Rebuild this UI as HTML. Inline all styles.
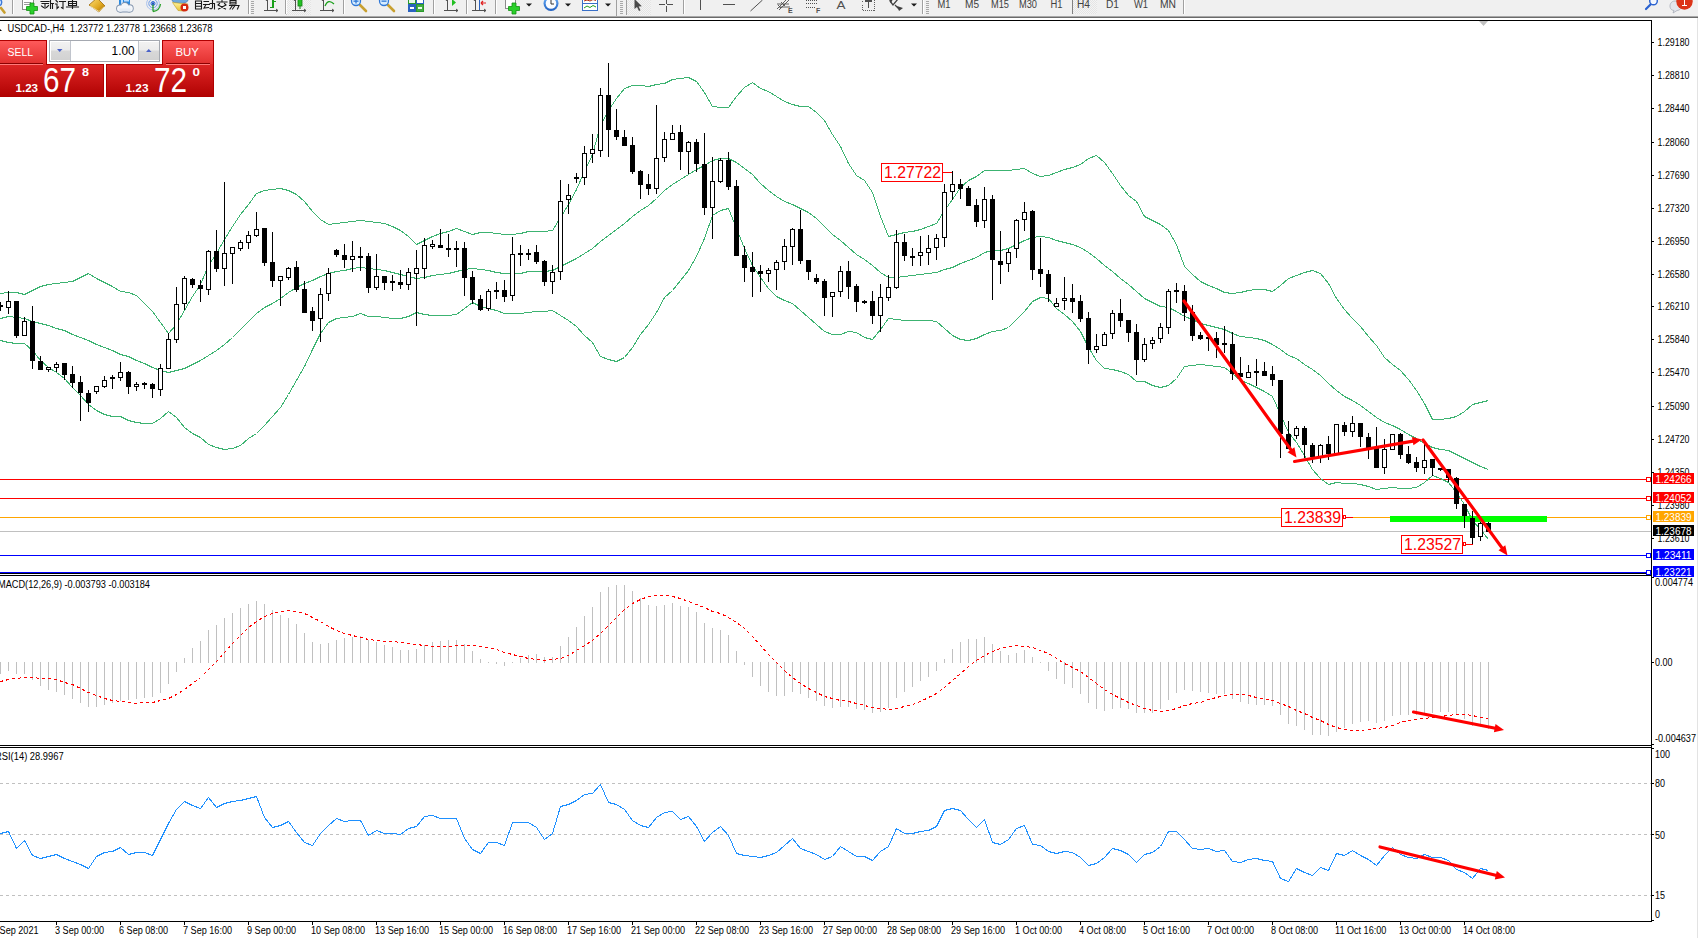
<!DOCTYPE html><html><head><meta charset="utf-8"><style>
html,body{margin:0;padding:0;}
body{width:1698px;height:938px;overflow:hidden;background:#fff;position:relative;font-family:"Liberation Sans", sans-serif;}
.abs{position:absolute;}
svg text{font-family:"Liberation Sans", sans-serif;}
</style></head><body>
<div class="abs" style="left:0;top:0;width:1698px;height:16px;background:#f0f0f0"></div>
<div class="abs" style="left:0;top:16px;width:1698px;height:1px;background:#a8a8a8"></div>
<div class="abs" style="left:0;top:17px;width:1698px;height:1px;background:#6a6a6a"></div>
<svg class="abs" style="left:0;top:0" width="1698" height="938" viewBox="0 0 1698 938">
<g shape-rendering="crispEdges">
<defs><clipPath id="cm"><rect x="0" y="21" width="1651" height="552"/></clipPath><clipPath id="cmacd"><rect x="0" y="576" width="1651" height="169"/></clipPath><clipPath id="crsi"><rect x="0" y="748" width="1651" height="173"/></clipPath></defs>
</g>
<g clip-path="url(#cm)">
<g shape-rendering="crispEdges">
<rect x="0" y="531" width="1651" height="1" fill="#c0c0c0"/>
<rect x="0" y="479" width="1651" height="1" fill="#ff0000"/>
<rect x="0" y="498" width="1651" height="1" fill="#ff0000"/>
<rect x="0" y="517" width="1651" height="1" fill="#ffa500"/>
<rect x="0" y="555" width="1651" height="1" fill="#0000ff"/>
<rect x="0" y="572" width="1651" height="1" fill="#0000ff"/>
</g>
<polyline points="0.5,293.5 8.5,292.5 16.5,292.5 24.5,294.5 32.5,290.5 40.5,286.5 48.5,284.5 56.5,283.5 64.5,282.5 72.5,281.5 80.5,277.5 88.5,273.5 96.5,278.5 104.5,282.5 112.5,286.5 120.5,291.5 128.5,292.5 136.5,295.5 144.5,303.5 152.5,311.5 160.5,322.5 168.5,333.5 176.5,324.5 184.5,310.5 192.5,296.5 200.5,284.5 208.5,265.5 216.5,253.5 224.5,239.5 232.5,226.5 240.5,214.5 248.5,204.5 256.5,193.5 264.5,190.5 272.5,189.5 280.5,188.5 288.5,190.5 296.5,194.5 304.5,201.5 312.5,211.5 320.5,219.5 328.5,224.5 336.5,223.5 344.5,222.5 352.5,221.5 360.5,220.5 368.5,221.5 376.5,222.5 384.5,223.5 392.5,226.5 400.5,230.5 408.5,236.5 416.5,244.5 424.5,240.5 432.5,236.5 440.5,233.5 448.5,231.5 456.5,228.5 464.5,231.5 472.5,234.5 480.5,232.5 488.5,232.5 496.5,233.5 504.5,234.5 512.5,234.5 520.5,233.5 528.5,231.5 536.5,231.5 544.5,231.5 552.5,230.5 560.5,217.5 568.5,204.5 576.5,189.5 584.5,171.5 592.5,154.5 600.5,125.5 608.5,110.5 616.5,98.5 624.5,88.5 632.5,85.5 640.5,85.5 648.5,86.5 656.5,84.5 664.5,83.5 672.5,79.5 680.5,78.5 688.5,77.5 696.5,81.5 704.5,92.5 712.5,106.5 720.5,107.5 728.5,107.5 736.5,96.5 744.5,87.5 752.5,82.5 760.5,88.5 768.5,91.5 776.5,96.5 784.5,101.5 792.5,104.5 800.5,106.5 808.5,106.5 816.5,112.5 824.5,120.5 832.5,134.5 840.5,146.5 848.5,163.5 856.5,175.5 864.5,180.5 872.5,192.5 880.5,216.5 888.5,236.5 896.5,234.5 904.5,232.5 912.5,231.5 920.5,229.5 928.5,226.5 936.5,223.5 944.5,210.5 952.5,199.5 960.5,187.5 968.5,180.5 976.5,176.5 984.5,170.5 992.5,170.5 1000.5,170.5 1008.5,170.5 1016.5,169.5 1024.5,168.5 1032.5,173.5 1040.5,176.5 1048.5,175.5 1056.5,172.5 1064.5,169.5 1072.5,167.5 1080.5,164.5 1088.5,158.5 1096.5,155.5 1104.5,162.5 1112.5,173.5 1120.5,185.5 1128.5,195.5 1136.5,201.5 1144.5,216.5 1152.5,220.5 1160.5,224.5 1168.5,230.5 1176.5,244.5 1184.5,266.5 1192.5,274.5 1200.5,281.5 1208.5,285.5 1216.5,288.5 1224.5,292.5 1232.5,293.5 1240.5,292.5 1248.5,290.5 1256.5,289.5 1264.5,289.5 1272.5,291.5 1280.5,285.5 1288.5,278.5 1296.5,275.5 1304.5,272.5 1312.5,270.5 1320.5,273.5 1328.5,283.5 1336.5,298.5 1344.5,309.5 1352.5,318.5 1360.5,326.5 1368.5,336.5 1376.5,345.5 1384.5,357.5 1392.5,364.5 1400.5,370.5 1408.5,379.5 1416.5,390.5 1424.5,403.5 1432.5,419.5 1440.5,419.5 1448.5,418.5 1456.5,416.5 1464.5,411.5 1472.5,404.5 1480.5,402.5 1488.5,400.5" fill="none" stroke="#3cb371" stroke-width="1" shape-rendering="crispEdges"/>
<polyline points="0.5,318.5 8.5,316.5 16.5,317.5 24.5,318.5 32.5,321.5 40.5,323.5 48.5,325.5 56.5,328.5 64.5,330.5 72.5,334.5 80.5,337.5 88.5,340.5 96.5,344.5 104.5,347.5 112.5,350.5 120.5,354.5 128.5,356.5 136.5,360.5 144.5,363.5 152.5,367.5 160.5,370.5 168.5,372.5 176.5,370.5 184.5,368.5 192.5,364.5 200.5,360.5 208.5,355.5 216.5,350.5 224.5,344.5 232.5,337.5 240.5,329.5 248.5,321.5 256.5,313.5 264.5,307.5 272.5,303.5 280.5,298.5 288.5,292.5 296.5,287.5 304.5,283.5 312.5,280.5 320.5,276.5 328.5,273.5 336.5,271.5 344.5,270.5 352.5,268.5 360.5,267.5 368.5,268.5 376.5,269.5 384.5,270.5 392.5,272.5 400.5,274.5 408.5,276.5 416.5,278.5 424.5,277.5 432.5,275.5 440.5,274.5 448.5,273.5 456.5,271.5 464.5,269.5 472.5,268.5 480.5,269.5 488.5,270.5 496.5,272.5 504.5,273.5 512.5,273.5 520.5,273.5 528.5,271.5 536.5,271.5 544.5,271.5 552.5,270.5 560.5,266.5 568.5,262.5 576.5,258.5 584.5,253.5 592.5,248.5 600.5,241.5 608.5,235.5 616.5,229.5 624.5,223.5 632.5,216.5 640.5,210.5 648.5,205.5 656.5,198.5 664.5,190.5 672.5,184.5 680.5,179.5 688.5,174.5 696.5,169.5 704.5,165.5 712.5,160.5 720.5,158.5 728.5,158.5 736.5,162.5 744.5,168.5 752.5,174.5 760.5,183.5 768.5,190.5 776.5,196.5 784.5,201.5 792.5,204.5 800.5,208.5 808.5,212.5 816.5,218.5 824.5,226.5 832.5,234.5 840.5,240.5 848.5,247.5 856.5,254.5 864.5,259.5 872.5,265.5 880.5,272.5 888.5,277.5 896.5,277.5 904.5,276.5 912.5,275.5 920.5,274.5 928.5,273.5 936.5,272.5 944.5,269.5 952.5,267.5 960.5,263.5 968.5,260.5 976.5,257.5 984.5,252.5 992.5,250.5 1000.5,250.5 1008.5,248.5 1016.5,244.5 1024.5,240.5 1032.5,237.5 1040.5,236.5 1048.5,237.5 1056.5,240.5 1064.5,242.5 1072.5,244.5 1080.5,247.5 1088.5,252.5 1096.5,258.5 1104.5,265.5 1112.5,271.5 1120.5,278.5 1128.5,284.5 1136.5,291.5 1144.5,298.5 1152.5,302.5 1160.5,306.5 1168.5,307.5 1176.5,311.5 1184.5,316.5 1192.5,319.5 1200.5,323.5 1208.5,325.5 1216.5,327.5 1224.5,329.5 1232.5,333.5 1240.5,336.5 1248.5,337.5 1256.5,338.5 1264.5,340.5 1272.5,344.5 1280.5,349.5 1288.5,355.5 1296.5,358.5 1304.5,364.5 1312.5,369.5 1320.5,375.5 1328.5,383.5 1336.5,390.5 1344.5,396.5 1352.5,400.5 1360.5,405.5 1368.5,411.5 1376.5,417.5 1384.5,422.5 1392.5,425.5 1400.5,429.5 1408.5,434.5 1416.5,438.5 1424.5,443.5 1432.5,447.5 1440.5,449.5 1448.5,450.5 1456.5,454.5 1464.5,458.5 1472.5,462.5 1480.5,466.5 1488.5,469.5" fill="none" stroke="#3cb371" stroke-width="1" shape-rendering="crispEdges"/>
<polyline points="0.5,340.5 8.5,342.5 16.5,343.5 24.5,343.5 32.5,350.5 40.5,360.5 48.5,367.5 56.5,372.5 64.5,378.5 72.5,387.5 80.5,395.5 88.5,404.5 96.5,410.5 104.5,414.5 112.5,416.5 120.5,416.5 128.5,420.5 136.5,422.5 144.5,423.5 152.5,423.5 160.5,418.5 168.5,411.5 176.5,417.5 184.5,427.5 192.5,433.5 200.5,437.5 208.5,444.5 216.5,447.5 224.5,449.5 232.5,448.5 240.5,445.5 248.5,438.5 256.5,433.5 264.5,425.5 272.5,416.5 280.5,407.5 288.5,394.5 296.5,380.5 304.5,366.5 312.5,349.5 320.5,333.5 328.5,322.5 336.5,318.5 344.5,317.5 352.5,316.5 360.5,313.5 368.5,316.5 376.5,316.5 384.5,317.5 392.5,318.5 400.5,318.5 408.5,316.5 416.5,312.5 424.5,314.5 432.5,315.5 440.5,315.5 448.5,315.5 456.5,314.5 464.5,308.5 472.5,302.5 480.5,306.5 488.5,308.5 496.5,310.5 504.5,313.5 512.5,313.5 520.5,313.5 528.5,312.5 536.5,311.5 544.5,311.5 552.5,310.5 560.5,315.5 568.5,320.5 576.5,326.5 584.5,335.5 592.5,342.5 600.5,356.5 608.5,359.5 616.5,361.5 624.5,357.5 632.5,347.5 640.5,334.5 648.5,324.5 656.5,312.5 664.5,297.5 672.5,290.5 680.5,280.5 688.5,270.5 696.5,256.5 704.5,238.5 712.5,215.5 720.5,210.5 728.5,208.5 736.5,228.5 744.5,248.5 752.5,265.5 760.5,277.5 768.5,288.5 776.5,296.5 784.5,300.5 792.5,303.5 800.5,310.5 808.5,317.5 816.5,324.5 824.5,331.5 832.5,334.5 840.5,334.5 848.5,331.5 856.5,332.5 864.5,337.5 872.5,339.5 880.5,329.5 888.5,318.5 896.5,319.5 904.5,320.5 912.5,320.5 920.5,320.5 928.5,320.5 936.5,321.5 944.5,328.5 952.5,335.5 960.5,339.5 968.5,340.5 976.5,338.5 984.5,334.5 992.5,331.5 1000.5,330.5 1008.5,327.5 1016.5,319.5 1024.5,311.5 1032.5,301.5 1040.5,297.5 1048.5,298.5 1056.5,308.5 1064.5,314.5 1072.5,321.5 1080.5,331.5 1088.5,347.5 1096.5,360.5 1104.5,368.5 1112.5,369.5 1120.5,371.5 1128.5,374.5 1136.5,381.5 1144.5,381.5 1152.5,385.5 1160.5,387.5 1168.5,385.5 1176.5,378.5 1184.5,366.5 1192.5,365.5 1200.5,364.5 1208.5,365.5 1216.5,366.5 1224.5,367.5 1232.5,373.5 1240.5,380.5 1248.5,383.5 1256.5,387.5 1264.5,391.5 1272.5,396.5 1280.5,414.5 1288.5,432.5 1296.5,442.5 1304.5,455.5 1312.5,469.5 1320.5,478.5 1328.5,484.5 1336.5,482.5 1344.5,483.5 1352.5,483.5 1360.5,484.5 1368.5,486.5 1376.5,489.5 1384.5,488.5 1392.5,487.5 1400.5,488.5 1408.5,488.5 1416.5,487.5 1424.5,482.5 1432.5,475.5 1440.5,478.5 1448.5,482.5 1456.5,492.5 1464.5,504.5 1472.5,520.5 1480.5,529.5 1488.5,539.5" fill="none" stroke="#3cb371" stroke-width="1" shape-rendering="crispEdges"/>
<rect x="1390" y="516" width="157" height="6" fill="#00ff00" shape-rendering="crispEdges"/>
<g shape-rendering="crispEdges">
<rect x="0" y="302" width="1" height="9" fill="#000"/>
<rect x="-2" y="305" width="5" height="2" fill="#000"/>
<rect x="8" y="291" width="1" height="23" fill="#000"/>
<rect x="6" y="301" width="5" height="7" fill="#000"/>
<rect x="7" y="302" width="3" height="5" fill="#fff"/>
<rect x="16" y="301" width="1" height="37" fill="#000"/>
<rect x="14" y="301" width="5" height="35" fill="#000"/>
<rect x="24" y="317" width="1" height="19" fill="#000"/>
<rect x="22" y="321" width="5" height="15" fill="#000"/>
<rect x="23" y="322" width="3" height="13" fill="#fff"/>
<rect x="32" y="306" width="1" height="63" fill="#000"/>
<rect x="30" y="321" width="5" height="40" fill="#000"/>
<rect x="40" y="356" width="1" height="14" fill="#000"/>
<rect x="38" y="361" width="5" height="9" fill="#000"/>
<rect x="48" y="367" width="1" height="5" fill="#000"/>
<rect x="46" y="367" width="5" height="3" fill="#000"/>
<rect x="47" y="368" width="3" height="1" fill="#fff"/>
<rect x="56" y="362" width="1" height="10" fill="#000"/>
<rect x="54" y="364" width="5" height="4" fill="#000"/>
<rect x="55" y="365" width="3" height="2" fill="#fff"/>
<rect x="64" y="363" width="1" height="17" fill="#000"/>
<rect x="62" y="363" width="5" height="12" fill="#000"/>
<rect x="72" y="366" width="1" height="22" fill="#000"/>
<rect x="70" y="374" width="5" height="9" fill="#000"/>
<rect x="80" y="376" width="1" height="45" fill="#000"/>
<rect x="78" y="382" width="5" height="11" fill="#000"/>
<rect x="88" y="390" width="1" height="22" fill="#000"/>
<rect x="86" y="393" width="5" height="10" fill="#000"/>
<rect x="96" y="386" width="1" height="8" fill="#000"/>
<rect x="94" y="386" width="5" height="6" fill="#000"/>
<rect x="95" y="387" width="3" height="4" fill="#fff"/>
<rect x="104" y="376" width="1" height="12" fill="#000"/>
<rect x="102" y="380" width="5" height="7" fill="#000"/>
<rect x="103" y="381" width="3" height="5" fill="#fff"/>
<rect x="112" y="375" width="1" height="14" fill="#000"/>
<rect x="110" y="377" width="5" height="2" fill="#000"/>
<rect x="120" y="362" width="1" height="19" fill="#000"/>
<rect x="118" y="372" width="5" height="6" fill="#000"/>
<rect x="119" y="373" width="3" height="4" fill="#fff"/>
<rect x="128" y="371" width="1" height="23" fill="#000"/>
<rect x="126" y="372" width="5" height="15" fill="#000"/>
<rect x="136" y="382" width="1" height="9" fill="#000"/>
<rect x="134" y="384" width="5" height="3" fill="#000"/>
<rect x="135" y="385" width="3" height="1" fill="#fff"/>
<rect x="144" y="382" width="1" height="7" fill="#000"/>
<rect x="142" y="383" width="5" height="2" fill="#000"/>
<rect x="152" y="383" width="1" height="15" fill="#000"/>
<rect x="150" y="384" width="5" height="5" fill="#000"/>
<rect x="160" y="364" width="1" height="32" fill="#000"/>
<rect x="158" y="368" width="5" height="22" fill="#000"/>
<rect x="159" y="369" width="3" height="20" fill="#fff"/>
<rect x="168" y="333" width="1" height="36" fill="#000"/>
<rect x="166" y="339" width="5" height="30" fill="#000"/>
<rect x="167" y="340" width="3" height="28" fill="#fff"/>
<rect x="176" y="287" width="1" height="56" fill="#000"/>
<rect x="174" y="304" width="5" height="36" fill="#000"/>
<rect x="175" y="305" width="3" height="34" fill="#fff"/>
<rect x="184" y="276" width="1" height="34" fill="#000"/>
<rect x="182" y="278" width="5" height="26" fill="#000"/>
<rect x="183" y="279" width="3" height="24" fill="#fff"/>
<rect x="192" y="278" width="1" height="10" fill="#000"/>
<rect x="190" y="279" width="5" height="6" fill="#000"/>
<rect x="200" y="280" width="1" height="22" fill="#000"/>
<rect x="198" y="285" width="5" height="4" fill="#000"/>
<rect x="208" y="250" width="1" height="45" fill="#000"/>
<rect x="206" y="251" width="5" height="39" fill="#000"/>
<rect x="207" y="252" width="3" height="37" fill="#fff"/>
<rect x="216" y="230" width="1" height="42" fill="#000"/>
<rect x="214" y="251" width="5" height="18" fill="#000"/>
<rect x="224" y="182" width="1" height="104" fill="#000"/>
<rect x="222" y="253" width="5" height="16" fill="#000"/>
<rect x="223" y="254" width="3" height="14" fill="#fff"/>
<rect x="232" y="247" width="1" height="37" fill="#000"/>
<rect x="230" y="247" width="5" height="7" fill="#000"/>
<rect x="231" y="248" width="3" height="5" fill="#fff"/>
<rect x="240" y="240" width="1" height="11" fill="#000"/>
<rect x="238" y="242" width="5" height="7" fill="#000"/>
<rect x="239" y="243" width="3" height="5" fill="#fff"/>
<rect x="248" y="231" width="1" height="18" fill="#000"/>
<rect x="246" y="235" width="5" height="8" fill="#000"/>
<rect x="247" y="236" width="3" height="6" fill="#fff"/>
<rect x="256" y="212" width="1" height="25" fill="#000"/>
<rect x="254" y="229" width="5" height="7" fill="#000"/>
<rect x="255" y="230" width="3" height="5" fill="#fff"/>
<rect x="264" y="228" width="1" height="38" fill="#000"/>
<rect x="262" y="228" width="5" height="35" fill="#000"/>
<rect x="272" y="232" width="1" height="55" fill="#000"/>
<rect x="270" y="262" width="5" height="19" fill="#000"/>
<rect x="280" y="276" width="1" height="30" fill="#000"/>
<rect x="278" y="276" width="5" height="5" fill="#000"/>
<rect x="279" y="277" width="3" height="3" fill="#fff"/>
<rect x="288" y="267" width="1" height="13" fill="#000"/>
<rect x="286" y="268" width="5" height="10" fill="#000"/>
<rect x="287" y="269" width="3" height="8" fill="#fff"/>
<rect x="296" y="261" width="1" height="31" fill="#000"/>
<rect x="294" y="267" width="5" height="23" fill="#000"/>
<rect x="304" y="281" width="1" height="32" fill="#000"/>
<rect x="302" y="289" width="5" height="24" fill="#000"/>
<rect x="312" y="307" width="1" height="24" fill="#000"/>
<rect x="310" y="311" width="5" height="10" fill="#000"/>
<rect x="320" y="288" width="1" height="54" fill="#000"/>
<rect x="318" y="294" width="5" height="25" fill="#000"/>
<rect x="319" y="295" width="3" height="23" fill="#fff"/>
<rect x="328" y="268" width="1" height="33" fill="#000"/>
<rect x="326" y="273" width="5" height="21" fill="#000"/>
<rect x="327" y="274" width="3" height="19" fill="#fff"/>
<rect x="336" y="249" width="1" height="8" fill="#000"/>
<rect x="334" y="250" width="5" height="5" fill="#000"/>
<rect x="344" y="244" width="1" height="24" fill="#000"/>
<rect x="342" y="255" width="5" height="5" fill="#000"/>
<rect x="352" y="241" width="1" height="31" fill="#000"/>
<rect x="350" y="256" width="5" height="4" fill="#000"/>
<rect x="351" y="257" width="3" height="2" fill="#fff"/>
<rect x="360" y="247" width="1" height="24" fill="#000"/>
<rect x="358" y="256" width="5" height="2" fill="#000"/>
<rect x="368" y="253" width="1" height="40" fill="#000"/>
<rect x="366" y="256" width="5" height="32" fill="#000"/>
<rect x="376" y="254" width="1" height="36" fill="#000"/>
<rect x="374" y="276" width="5" height="12" fill="#000"/>
<rect x="375" y="277" width="3" height="10" fill="#fff"/>
<rect x="384" y="276" width="1" height="14" fill="#000"/>
<rect x="382" y="276" width="5" height="7" fill="#000"/>
<rect x="392" y="275" width="1" height="16" fill="#000"/>
<rect x="390" y="281" width="5" height="2" fill="#000"/>
<rect x="400" y="270" width="1" height="19" fill="#000"/>
<rect x="398" y="282" width="5" height="3" fill="#000"/>
<rect x="408" y="268" width="1" height="22" fill="#000"/>
<rect x="406" y="272" width="5" height="13" fill="#000"/>
<rect x="407" y="273" width="3" height="11" fill="#fff"/>
<rect x="416" y="250" width="1" height="76" fill="#000"/>
<rect x="414" y="268" width="5" height="6" fill="#000"/>
<rect x="415" y="269" width="3" height="4" fill="#fff"/>
<rect x="424" y="238" width="1" height="41" fill="#000"/>
<rect x="422" y="245" width="5" height="24" fill="#000"/>
<rect x="423" y="246" width="3" height="22" fill="#fff"/>
<rect x="432" y="240" width="1" height="9" fill="#000"/>
<rect x="430" y="244" width="5" height="3" fill="#000"/>
<rect x="431" y="245" width="3" height="1" fill="#fff"/>
<rect x="440" y="229" width="1" height="19" fill="#000"/>
<rect x="438" y="245" width="5" height="3" fill="#000"/>
<rect x="448" y="234" width="1" height="23" fill="#000"/>
<rect x="446" y="248" width="5" height="2" fill="#000"/>
<rect x="456" y="241" width="1" height="26" fill="#000"/>
<rect x="454" y="248" width="5" height="2" fill="#000"/>
<rect x="464" y="242" width="1" height="54" fill="#000"/>
<rect x="462" y="248" width="5" height="30" fill="#000"/>
<rect x="472" y="271" width="1" height="33" fill="#000"/>
<rect x="470" y="277" width="5" height="23" fill="#000"/>
<rect x="480" y="295" width="1" height="16" fill="#000"/>
<rect x="478" y="299" width="5" height="11" fill="#000"/>
<rect x="488" y="289" width="1" height="22" fill="#000"/>
<rect x="486" y="291" width="5" height="18" fill="#000"/>
<rect x="487" y="292" width="3" height="16" fill="#fff"/>
<rect x="496" y="282" width="1" height="17" fill="#000"/>
<rect x="494" y="290" width="5" height="2" fill="#000"/>
<rect x="504" y="280" width="1" height="22" fill="#000"/>
<rect x="502" y="290" width="5" height="7" fill="#000"/>
<rect x="512" y="237" width="1" height="64" fill="#000"/>
<rect x="510" y="254" width="5" height="42" fill="#000"/>
<rect x="511" y="255" width="3" height="40" fill="#fff"/>
<rect x="520" y="245" width="1" height="21" fill="#000"/>
<rect x="518" y="253" width="5" height="2" fill="#000"/>
<rect x="528" y="249" width="1" height="11" fill="#000"/>
<rect x="526" y="253" width="5" height="2" fill="#000"/>
<rect x="536" y="245" width="1" height="19" fill="#000"/>
<rect x="534" y="252" width="5" height="10" fill="#000"/>
<rect x="544" y="260" width="1" height="26" fill="#000"/>
<rect x="542" y="261" width="5" height="21" fill="#000"/>
<rect x="552" y="265" width="1" height="29" fill="#000"/>
<rect x="550" y="272" width="5" height="10" fill="#000"/>
<rect x="551" y="273" width="3" height="8" fill="#fff"/>
<rect x="560" y="180" width="1" height="100" fill="#000"/>
<rect x="558" y="201" width="5" height="71" fill="#000"/>
<rect x="559" y="202" width="3" height="69" fill="#fff"/>
<rect x="568" y="184" width="1" height="30" fill="#000"/>
<rect x="566" y="195" width="5" height="5" fill="#000"/>
<rect x="567" y="196" width="3" height="3" fill="#fff"/>
<rect x="576" y="173" width="1" height="10" fill="#000"/>
<rect x="574" y="177" width="5" height="2" fill="#000"/>
<rect x="584" y="146" width="1" height="39" fill="#000"/>
<rect x="582" y="153" width="5" height="25" fill="#000"/>
<rect x="583" y="154" width="3" height="23" fill="#fff"/>
<rect x="592" y="134" width="1" height="29" fill="#000"/>
<rect x="590" y="149" width="5" height="5" fill="#000"/>
<rect x="591" y="150" width="3" height="3" fill="#fff"/>
<rect x="600" y="88" width="1" height="69" fill="#000"/>
<rect x="598" y="95" width="5" height="56" fill="#000"/>
<rect x="599" y="96" width="3" height="54" fill="#fff"/>
<rect x="608" y="63" width="1" height="94" fill="#000"/>
<rect x="606" y="95" width="5" height="35" fill="#000"/>
<rect x="616" y="109" width="1" height="31" fill="#000"/>
<rect x="614" y="130" width="5" height="7" fill="#000"/>
<rect x="624" y="130" width="1" height="16" fill="#000"/>
<rect x="622" y="137" width="5" height="9" fill="#000"/>
<rect x="632" y="137" width="1" height="37" fill="#000"/>
<rect x="630" y="145" width="5" height="27" fill="#000"/>
<rect x="640" y="170" width="1" height="29" fill="#000"/>
<rect x="638" y="171" width="5" height="14" fill="#000"/>
<rect x="648" y="174" width="1" height="21" fill="#000"/>
<rect x="646" y="184" width="5" height="5" fill="#000"/>
<rect x="656" y="105" width="1" height="89" fill="#000"/>
<rect x="654" y="158" width="5" height="31" fill="#000"/>
<rect x="655" y="159" width="3" height="29" fill="#fff"/>
<rect x="664" y="132" width="1" height="30" fill="#000"/>
<rect x="662" y="139" width="5" height="19" fill="#000"/>
<rect x="663" y="140" width="3" height="17" fill="#fff"/>
<rect x="672" y="125" width="1" height="15" fill="#000"/>
<rect x="670" y="133" width="5" height="7" fill="#000"/>
<rect x="671" y="134" width="3" height="5" fill="#fff"/>
<rect x="680" y="125" width="1" height="45" fill="#000"/>
<rect x="678" y="132" width="5" height="20" fill="#000"/>
<rect x="688" y="141" width="1" height="33" fill="#000"/>
<rect x="686" y="142" width="5" height="10" fill="#000"/>
<rect x="687" y="143" width="3" height="8" fill="#fff"/>
<rect x="696" y="139" width="1" height="33" fill="#000"/>
<rect x="694" y="142" width="5" height="22" fill="#000"/>
<rect x="704" y="133" width="1" height="82" fill="#000"/>
<rect x="702" y="164" width="5" height="44" fill="#000"/>
<rect x="712" y="157" width="1" height="82" fill="#000"/>
<rect x="710" y="181" width="5" height="27" fill="#000"/>
<rect x="711" y="182" width="3" height="25" fill="#fff"/>
<rect x="720" y="158" width="1" height="25" fill="#000"/>
<rect x="718" y="160" width="5" height="22" fill="#000"/>
<rect x="719" y="161" width="3" height="20" fill="#fff"/>
<rect x="728" y="152" width="1" height="38" fill="#000"/>
<rect x="726" y="160" width="5" height="27" fill="#000"/>
<rect x="736" y="180" width="1" height="76" fill="#000"/>
<rect x="734" y="186" width="5" height="70" fill="#000"/>
<rect x="744" y="246" width="1" height="36" fill="#000"/>
<rect x="742" y="255" width="5" height="13" fill="#000"/>
<rect x="752" y="252" width="1" height="45" fill="#000"/>
<rect x="750" y="267" width="5" height="5" fill="#000"/>
<rect x="760" y="265" width="1" height="27" fill="#000"/>
<rect x="758" y="271" width="5" height="3" fill="#000"/>
<rect x="768" y="268" width="1" height="14" fill="#000"/>
<rect x="766" y="270" width="5" height="4" fill="#000"/>
<rect x="767" y="271" width="3" height="2" fill="#fff"/>
<rect x="776" y="260" width="1" height="30" fill="#000"/>
<rect x="774" y="262" width="5" height="8" fill="#000"/>
<rect x="775" y="263" width="3" height="6" fill="#fff"/>
<rect x="784" y="239" width="1" height="31" fill="#000"/>
<rect x="782" y="246" width="5" height="16" fill="#000"/>
<rect x="783" y="247" width="3" height="14" fill="#fff"/>
<rect x="792" y="228" width="1" height="37" fill="#000"/>
<rect x="790" y="229" width="5" height="18" fill="#000"/>
<rect x="791" y="230" width="3" height="16" fill="#fff"/>
<rect x="800" y="210" width="1" height="54" fill="#000"/>
<rect x="798" y="229" width="5" height="32" fill="#000"/>
<rect x="808" y="260" width="1" height="20" fill="#000"/>
<rect x="806" y="260" width="5" height="12" fill="#000"/>
<rect x="816" y="274" width="1" height="10" fill="#000"/>
<rect x="814" y="278" width="5" height="4" fill="#000"/>
<rect x="824" y="279" width="1" height="37" fill="#000"/>
<rect x="822" y="281" width="5" height="17" fill="#000"/>
<rect x="832" y="292" width="1" height="25" fill="#000"/>
<rect x="830" y="292" width="5" height="5" fill="#000"/>
<rect x="831" y="293" width="3" height="3" fill="#fff"/>
<rect x="840" y="266" width="1" height="31" fill="#000"/>
<rect x="838" y="271" width="5" height="21" fill="#000"/>
<rect x="839" y="272" width="3" height="19" fill="#fff"/>
<rect x="848" y="261" width="1" height="38" fill="#000"/>
<rect x="846" y="271" width="5" height="16" fill="#000"/>
<rect x="856" y="284" width="1" height="28" fill="#000"/>
<rect x="854" y="286" width="5" height="16" fill="#000"/>
<rect x="864" y="300" width="1" height="4" fill="#000"/>
<rect x="862" y="301" width="5" height="2" fill="#000"/>
<rect x="872" y="291" width="1" height="33" fill="#000"/>
<rect x="870" y="301" width="5" height="15" fill="#000"/>
<rect x="880" y="284" width="1" height="48" fill="#000"/>
<rect x="878" y="297" width="5" height="19" fill="#000"/>
<rect x="879" y="298" width="3" height="17" fill="#fff"/>
<rect x="888" y="275" width="1" height="26" fill="#000"/>
<rect x="886" y="287" width="5" height="11" fill="#000"/>
<rect x="887" y="288" width="3" height="9" fill="#fff"/>
<rect x="896" y="230" width="1" height="59" fill="#000"/>
<rect x="894" y="242" width="5" height="46" fill="#000"/>
<rect x="895" y="243" width="3" height="44" fill="#fff"/>
<rect x="904" y="234" width="1" height="27" fill="#000"/>
<rect x="902" y="242" width="5" height="14" fill="#000"/>
<rect x="912" y="248" width="1" height="18" fill="#000"/>
<rect x="910" y="256" width="5" height="2" fill="#000"/>
<rect x="920" y="236" width="1" height="30" fill="#000"/>
<rect x="918" y="252" width="5" height="4" fill="#000"/>
<rect x="919" y="253" width="3" height="2" fill="#fff"/>
<rect x="928" y="235" width="1" height="30" fill="#000"/>
<rect x="926" y="248" width="5" height="5" fill="#000"/>
<rect x="927" y="249" width="3" height="3" fill="#fff"/>
<rect x="936" y="234" width="1" height="26" fill="#000"/>
<rect x="934" y="238" width="5" height="10" fill="#000"/>
<rect x="935" y="239" width="3" height="8" fill="#fff"/>
<rect x="944" y="184" width="1" height="63" fill="#000"/>
<rect x="942" y="192" width="5" height="46" fill="#000"/>
<rect x="943" y="193" width="3" height="44" fill="#fff"/>
<rect x="952" y="171" width="1" height="29" fill="#000"/>
<rect x="950" y="184" width="5" height="8" fill="#000"/>
<rect x="951" y="185" width="3" height="6" fill="#fff"/>
<rect x="960" y="179" width="1" height="20" fill="#000"/>
<rect x="958" y="184" width="5" height="5" fill="#000"/>
<rect x="968" y="186" width="1" height="20" fill="#000"/>
<rect x="966" y="188" width="5" height="18" fill="#000"/>
<rect x="976" y="199" width="1" height="28" fill="#000"/>
<rect x="974" y="205" width="5" height="17" fill="#000"/>
<rect x="984" y="187" width="1" height="41" fill="#000"/>
<rect x="982" y="199" width="5" height="22" fill="#000"/>
<rect x="983" y="200" width="3" height="20" fill="#fff"/>
<rect x="992" y="195" width="1" height="105" fill="#000"/>
<rect x="990" y="199" width="5" height="61" fill="#000"/>
<rect x="1000" y="231" width="1" height="53" fill="#000"/>
<rect x="998" y="261" width="5" height="4" fill="#000"/>
<rect x="1008" y="249" width="1" height="23" fill="#000"/>
<rect x="1006" y="252" width="5" height="12" fill="#000"/>
<rect x="1007" y="253" width="3" height="10" fill="#fff"/>
<rect x="1016" y="219" width="1" height="39" fill="#000"/>
<rect x="1014" y="220" width="5" height="29" fill="#000"/>
<rect x="1015" y="221" width="3" height="27" fill="#fff"/>
<rect x="1024" y="202" width="1" height="29" fill="#000"/>
<rect x="1022" y="212" width="5" height="8" fill="#000"/>
<rect x="1023" y="213" width="3" height="6" fill="#fff"/>
<rect x="1032" y="210" width="1" height="70" fill="#000"/>
<rect x="1030" y="211" width="5" height="59" fill="#000"/>
<rect x="1040" y="238" width="1" height="49" fill="#000"/>
<rect x="1038" y="269" width="5" height="5" fill="#000"/>
<rect x="1048" y="270" width="1" height="32" fill="#000"/>
<rect x="1046" y="274" width="5" height="20" fill="#000"/>
<rect x="1056" y="298" width="1" height="9" fill="#000"/>
<rect x="1054" y="303" width="5" height="4" fill="#000"/>
<rect x="1055" y="304" width="3" height="2" fill="#fff"/>
<rect x="1064" y="277" width="1" height="33" fill="#000"/>
<rect x="1062" y="298" width="5" height="3" fill="#000"/>
<rect x="1063" y="299" width="3" height="1" fill="#fff"/>
<rect x="1072" y="284" width="1" height="29" fill="#000"/>
<rect x="1070" y="298" width="5" height="4" fill="#000"/>
<rect x="1080" y="295" width="1" height="27" fill="#000"/>
<rect x="1078" y="301" width="5" height="18" fill="#000"/>
<rect x="1088" y="312" width="1" height="52" fill="#000"/>
<rect x="1086" y="318" width="5" height="32" fill="#000"/>
<rect x="1096" y="334" width="1" height="19" fill="#000"/>
<rect x="1094" y="346" width="5" height="4" fill="#000"/>
<rect x="1095" y="347" width="3" height="2" fill="#fff"/>
<rect x="1104" y="332" width="1" height="14" fill="#000"/>
<rect x="1102" y="334" width="5" height="12" fill="#000"/>
<rect x="1103" y="335" width="3" height="10" fill="#fff"/>
<rect x="1112" y="310" width="1" height="29" fill="#000"/>
<rect x="1110" y="313" width="5" height="21" fill="#000"/>
<rect x="1111" y="314" width="3" height="19" fill="#fff"/>
<rect x="1120" y="299" width="1" height="28" fill="#000"/>
<rect x="1118" y="313" width="5" height="8" fill="#000"/>
<rect x="1128" y="320" width="1" height="22" fill="#000"/>
<rect x="1126" y="320" width="5" height="13" fill="#000"/>
<rect x="1136" y="324" width="1" height="51" fill="#000"/>
<rect x="1134" y="332" width="5" height="28" fill="#000"/>
<rect x="1144" y="338" width="1" height="24" fill="#000"/>
<rect x="1142" y="344" width="5" height="16" fill="#000"/>
<rect x="1143" y="345" width="3" height="14" fill="#fff"/>
<rect x="1152" y="337" width="1" height="12" fill="#000"/>
<rect x="1150" y="340" width="5" height="4" fill="#000"/>
<rect x="1151" y="341" width="3" height="2" fill="#fff"/>
<rect x="1160" y="323" width="1" height="20" fill="#000"/>
<rect x="1158" y="327" width="5" height="12" fill="#000"/>
<rect x="1159" y="328" width="3" height="10" fill="#fff"/>
<rect x="1168" y="289" width="1" height="45" fill="#000"/>
<rect x="1166" y="291" width="5" height="37" fill="#000"/>
<rect x="1167" y="292" width="3" height="35" fill="#fff"/>
<rect x="1176" y="283" width="1" height="20" fill="#000"/>
<rect x="1174" y="290" width="5" height="2" fill="#000"/>
<rect x="1184" y="285" width="1" height="36" fill="#000"/>
<rect x="1182" y="291" width="5" height="22" fill="#000"/>
<rect x="1192" y="305" width="1" height="36" fill="#000"/>
<rect x="1190" y="312" width="5" height="24" fill="#000"/>
<rect x="1200" y="332" width="1" height="8" fill="#000"/>
<rect x="1198" y="335" width="5" height="4" fill="#000"/>
<rect x="1208" y="338" width="1" height="13" fill="#000"/>
<rect x="1206" y="337" width="5" height="2" fill="#000"/>
<rect x="1216" y="332" width="1" height="26" fill="#000"/>
<rect x="1214" y="338" width="5" height="7" fill="#000"/>
<rect x="1224" y="326" width="1" height="27" fill="#000"/>
<rect x="1222" y="343" width="5" height="2" fill="#000"/>
<rect x="1232" y="332" width="1" height="48" fill="#000"/>
<rect x="1230" y="344" width="5" height="30" fill="#000"/>
<rect x="1240" y="357" width="1" height="20" fill="#000"/>
<rect x="1238" y="373" width="5" height="4" fill="#000"/>
<rect x="1248" y="365" width="1" height="13" fill="#000"/>
<rect x="1246" y="372" width="5" height="6" fill="#000"/>
<rect x="1247" y="373" width="3" height="4" fill="#fff"/>
<rect x="1256" y="359" width="1" height="27" fill="#000"/>
<rect x="1254" y="371" width="5" height="2" fill="#000"/>
<rect x="1264" y="362" width="1" height="14" fill="#000"/>
<rect x="1262" y="371" width="5" height="5" fill="#000"/>
<rect x="1272" y="366" width="1" height="20" fill="#000"/>
<rect x="1270" y="374" width="5" height="6" fill="#000"/>
<rect x="1280" y="380" width="1" height="78" fill="#000"/>
<rect x="1278" y="380" width="5" height="54" fill="#000"/>
<rect x="1288" y="421" width="1" height="28" fill="#000"/>
<rect x="1286" y="434" width="5" height="15" fill="#000"/>
<rect x="1296" y="426" width="1" height="13" fill="#000"/>
<rect x="1294" y="428" width="5" height="8" fill="#000"/>
<rect x="1295" y="429" width="3" height="6" fill="#fff"/>
<rect x="1304" y="426" width="1" height="32" fill="#000"/>
<rect x="1302" y="428" width="5" height="17" fill="#000"/>
<rect x="1312" y="443" width="1" height="20" fill="#000"/>
<rect x="1310" y="445" width="5" height="12" fill="#000"/>
<rect x="1320" y="444" width="1" height="19" fill="#000"/>
<rect x="1318" y="445" width="5" height="13" fill="#000"/>
<rect x="1319" y="446" width="3" height="11" fill="#fff"/>
<rect x="1328" y="436" width="1" height="24" fill="#000"/>
<rect x="1326" y="444" width="5" height="10" fill="#000"/>
<rect x="1336" y="424" width="1" height="31" fill="#000"/>
<rect x="1334" y="424" width="5" height="30" fill="#000"/>
<rect x="1335" y="425" width="3" height="28" fill="#fff"/>
<rect x="1344" y="422" width="1" height="14" fill="#000"/>
<rect x="1342" y="425" width="5" height="7" fill="#000"/>
<rect x="1352" y="416" width="1" height="21" fill="#000"/>
<rect x="1350" y="423" width="5" height="9" fill="#000"/>
<rect x="1351" y="424" width="3" height="7" fill="#fff"/>
<rect x="1360" y="423" width="1" height="24" fill="#000"/>
<rect x="1358" y="423" width="5" height="14" fill="#000"/>
<rect x="1368" y="433" width="1" height="26" fill="#000"/>
<rect x="1366" y="437" width="5" height="11" fill="#000"/>
<rect x="1376" y="427" width="1" height="41" fill="#000"/>
<rect x="1374" y="448" width="5" height="20" fill="#000"/>
<rect x="1384" y="439" width="1" height="35" fill="#000"/>
<rect x="1382" y="449" width="5" height="19" fill="#000"/>
<rect x="1383" y="450" width="3" height="17" fill="#fff"/>
<rect x="1392" y="434" width="1" height="16" fill="#000"/>
<rect x="1390" y="434" width="5" height="16" fill="#000"/>
<rect x="1391" y="435" width="3" height="14" fill="#fff"/>
<rect x="1400" y="433" width="1" height="26" fill="#000"/>
<rect x="1398" y="434" width="5" height="21" fill="#000"/>
<rect x="1408" y="446" width="1" height="18" fill="#000"/>
<rect x="1406" y="454" width="5" height="9" fill="#000"/>
<rect x="1416" y="457" width="1" height="15" fill="#000"/>
<rect x="1414" y="462" width="5" height="6" fill="#000"/>
<rect x="1424" y="440" width="1" height="34" fill="#000"/>
<rect x="1422" y="460" width="5" height="8" fill="#000"/>
<rect x="1423" y="461" width="3" height="6" fill="#fff"/>
<rect x="1432" y="459" width="1" height="17" fill="#000"/>
<rect x="1430" y="459" width="5" height="9" fill="#000"/>
<rect x="1440" y="468" width="1" height="3" fill="#000"/>
<rect x="1438" y="468" width="5" height="2" fill="#000"/>
<rect x="1448" y="469" width="1" height="13" fill="#000"/>
<rect x="1446" y="469" width="5" height="9" fill="#000"/>
<rect x="1456" y="477" width="1" height="32" fill="#000"/>
<rect x="1454" y="478" width="5" height="26" fill="#000"/>
<rect x="1464" y="504" width="1" height="24" fill="#000"/>
<rect x="1462" y="504" width="5" height="12" fill="#000"/>
<rect x="1472" y="511" width="1" height="33" fill="#000"/>
<rect x="1470" y="518" width="5" height="20" fill="#000"/>
<rect x="1480" y="522" width="1" height="19" fill="#000"/>
<rect x="1478" y="523" width="5" height="14" fill="#000"/>
<rect x="1479" y="524" width="3" height="12" fill="#fff"/>
<rect x="1488" y="522" width="1" height="10" fill="#000"/>
<rect x="1486" y="523" width="5" height="9" fill="#000"/>
</g>
</g>
<g shape-rendering="crispEdges">
<rect x="0" y="20" width="1652" height="1" fill="#000"/>
<rect x="1651" y="20" width="1" height="902" fill="#000"/>
<rect x="0" y="573" width="1652" height="1" fill="#000"/>
<rect x="0" y="575" width="1652" height="1" fill="#000"/>
<rect x="0" y="745" width="1652" height="1" fill="#000"/>
<rect x="0" y="747" width="1652" height="1" fill="#000"/>
<rect x="0" y="921" width="1652" height="1" fill="#000"/>
<rect x="1697" y="18" width="1" height="920" fill="#e3e3e3"/>
</g>
<g clip-path="url(#cmacd)">
<g shape-rendering="crispEdges">
<rect x="0" y="662" width="1" height="12" fill="#c0c0c0"/>
<rect x="8" y="662" width="1" height="9" fill="#c0c0c0"/>
<rect x="16" y="662" width="1" height="12" fill="#c0c0c0"/>
<rect x="24" y="662" width="1" height="12" fill="#c0c0c0"/>
<rect x="32" y="662" width="1" height="18" fill="#c0c0c0"/>
<rect x="40" y="662" width="1" height="24" fill="#c0c0c0"/>
<rect x="48" y="662" width="1" height="28" fill="#c0c0c0"/>
<rect x="56" y="662" width="1" height="30" fill="#c0c0c0"/>
<rect x="64" y="662" width="1" height="33" fill="#c0c0c0"/>
<rect x="72" y="662" width="1" height="37" fill="#c0c0c0"/>
<rect x="80" y="662" width="1" height="41" fill="#c0c0c0"/>
<rect x="88" y="662" width="1" height="45" fill="#c0c0c0"/>
<rect x="96" y="662" width="1" height="45" fill="#c0c0c0"/>
<rect x="104" y="662" width="1" height="43" fill="#c0c0c0"/>
<rect x="112" y="662" width="1" height="41" fill="#c0c0c0"/>
<rect x="120" y="662" width="1" height="39" fill="#c0c0c0"/>
<rect x="128" y="662" width="1" height="38" fill="#c0c0c0"/>
<rect x="136" y="662" width="1" height="37" fill="#c0c0c0"/>
<rect x="144" y="662" width="1" height="36" fill="#c0c0c0"/>
<rect x="152" y="662" width="1" height="35" fill="#c0c0c0"/>
<rect x="160" y="662" width="1" height="31" fill="#c0c0c0"/>
<rect x="168" y="662" width="1" height="22" fill="#c0c0c0"/>
<rect x="176" y="662" width="1" height="10" fill="#c0c0c0"/>
<rect x="184" y="658" width="1" height="5" fill="#c0c0c0"/>
<rect x="192" y="648" width="1" height="15" fill="#c0c0c0"/>
<rect x="200" y="641" width="1" height="22" fill="#c0c0c0"/>
<rect x="208" y="630" width="1" height="33" fill="#c0c0c0"/>
<rect x="216" y="625" width="1" height="38" fill="#c0c0c0"/>
<rect x="224" y="618" width="1" height="45" fill="#c0c0c0"/>
<rect x="232" y="613" width="1" height="50" fill="#c0c0c0"/>
<rect x="240" y="608" width="1" height="55" fill="#c0c0c0"/>
<rect x="248" y="604" width="1" height="59" fill="#c0c0c0"/>
<rect x="256" y="601" width="1" height="62" fill="#c0c0c0"/>
<rect x="264" y="604" width="1" height="59" fill="#c0c0c0"/>
<rect x="272" y="610" width="1" height="53" fill="#c0c0c0"/>
<rect x="280" y="615" width="1" height="48" fill="#c0c0c0"/>
<rect x="288" y="618" width="1" height="45" fill="#c0c0c0"/>
<rect x="296" y="624" width="1" height="39" fill="#c0c0c0"/>
<rect x="304" y="633" width="1" height="30" fill="#c0c0c0"/>
<rect x="312" y="642" width="1" height="21" fill="#c0c0c0"/>
<rect x="320" y="644" width="1" height="19" fill="#c0c0c0"/>
<rect x="328" y="643" width="1" height="20" fill="#c0c0c0"/>
<rect x="336" y="640" width="1" height="23" fill="#c0c0c0"/>
<rect x="344" y="638" width="1" height="25" fill="#c0c0c0"/>
<rect x="352" y="637" width="1" height="26" fill="#c0c0c0"/>
<rect x="360" y="636" width="1" height="27" fill="#c0c0c0"/>
<rect x="368" y="640" width="1" height="23" fill="#c0c0c0"/>
<rect x="376" y="642" width="1" height="21" fill="#c0c0c0"/>
<rect x="384" y="645" width="1" height="18" fill="#c0c0c0"/>
<rect x="392" y="647" width="1" height="16" fill="#c0c0c0"/>
<rect x="400" y="650" width="1" height="13" fill="#c0c0c0"/>
<rect x="408" y="650" width="1" height="13" fill="#c0c0c0"/>
<rect x="416" y="649" width="1" height="14" fill="#c0c0c0"/>
<rect x="424" y="645" width="1" height="18" fill="#c0c0c0"/>
<rect x="432" y="642" width="1" height="21" fill="#c0c0c0"/>
<rect x="440" y="641" width="1" height="22" fill="#c0c0c0"/>
<rect x="448" y="640" width="1" height="23" fill="#c0c0c0"/>
<rect x="456" y="640" width="1" height="23" fill="#c0c0c0"/>
<rect x="464" y="644" width="1" height="19" fill="#c0c0c0"/>
<rect x="472" y="651" width="1" height="12" fill="#c0c0c0"/>
<rect x="480" y="659" width="1" height="4" fill="#c0c0c0"/>
<rect x="488" y="662" width="1" height="1" fill="#c0c0c0"/>
<rect x="496" y="662" width="1" height="2" fill="#c0c0c0"/>
<rect x="504" y="662" width="1" height="4" fill="#c0c0c0"/>
<rect x="512" y="662" width="1" height="1" fill="#c0c0c0"/>
<rect x="520" y="658" width="1" height="5" fill="#c0c0c0"/>
<rect x="528" y="655" width="1" height="8" fill="#c0c0c0"/>
<rect x="536" y="654" width="1" height="9" fill="#c0c0c0"/>
<rect x="544" y="657" width="1" height="6" fill="#c0c0c0"/>
<rect x="552" y="657" width="1" height="6" fill="#c0c0c0"/>
<rect x="560" y="646" width="1" height="17" fill="#c0c0c0"/>
<rect x="568" y="637" width="1" height="26" fill="#c0c0c0"/>
<rect x="576" y="627" width="1" height="36" fill="#c0c0c0"/>
<rect x="584" y="616" width="1" height="47" fill="#c0c0c0"/>
<rect x="592" y="607" width="1" height="56" fill="#c0c0c0"/>
<rect x="600" y="592" width="1" height="71" fill="#c0c0c0"/>
<rect x="608" y="587" width="1" height="76" fill="#c0c0c0"/>
<rect x="616" y="585" width="1" height="78" fill="#c0c0c0"/>
<rect x="624" y="585" width="1" height="78" fill="#c0c0c0"/>
<rect x="632" y="591" width="1" height="72" fill="#c0c0c0"/>
<rect x="640" y="598" width="1" height="65" fill="#c0c0c0"/>
<rect x="648" y="605" width="1" height="58" fill="#c0c0c0"/>
<rect x="656" y="606" width="1" height="57" fill="#c0c0c0"/>
<rect x="664" y="605" width="1" height="58" fill="#c0c0c0"/>
<rect x="672" y="603" width="1" height="60" fill="#c0c0c0"/>
<rect x="680" y="606" width="1" height="57" fill="#c0c0c0"/>
<rect x="688" y="607" width="1" height="56" fill="#c0c0c0"/>
<rect x="696" y="612" width="1" height="51" fill="#c0c0c0"/>
<rect x="704" y="623" width="1" height="40" fill="#c0c0c0"/>
<rect x="712" y="628" width="1" height="35" fill="#c0c0c0"/>
<rect x="720" y="630" width="1" height="33" fill="#c0c0c0"/>
<rect x="728" y="635" width="1" height="28" fill="#c0c0c0"/>
<rect x="736" y="651" width="1" height="12" fill="#c0c0c0"/>
<rect x="744" y="662" width="1" height="3" fill="#c0c0c0"/>
<rect x="752" y="662" width="1" height="15" fill="#c0c0c0"/>
<rect x="760" y="662" width="1" height="24" fill="#c0c0c0"/>
<rect x="768" y="662" width="1" height="30" fill="#c0c0c0"/>
<rect x="776" y="662" width="1" height="34" fill="#c0c0c0"/>
<rect x="784" y="662" width="1" height="34" fill="#c0c0c0"/>
<rect x="792" y="662" width="1" height="30" fill="#c0c0c0"/>
<rect x="800" y="662" width="1" height="32" fill="#c0c0c0"/>
<rect x="808" y="662" width="1" height="36" fill="#c0c0c0"/>
<rect x="816" y="662" width="1" height="39" fill="#c0c0c0"/>
<rect x="824" y="662" width="1" height="44" fill="#c0c0c0"/>
<rect x="832" y="662" width="1" height="46" fill="#c0c0c0"/>
<rect x="840" y="662" width="1" height="45" fill="#c0c0c0"/>
<rect x="848" y="662" width="1" height="45" fill="#c0c0c0"/>
<rect x="856" y="662" width="1" height="47" fill="#c0c0c0"/>
<rect x="864" y="662" width="1" height="48" fill="#c0c0c0"/>
<rect x="872" y="662" width="1" height="51" fill="#c0c0c0"/>
<rect x="880" y="662" width="1" height="50" fill="#c0c0c0"/>
<rect x="888" y="662" width="1" height="46" fill="#c0c0c0"/>
<rect x="896" y="662" width="1" height="36" fill="#c0c0c0"/>
<rect x="904" y="662" width="1" height="30" fill="#c0c0c0"/>
<rect x="912" y="662" width="1" height="25" fill="#c0c0c0"/>
<rect x="920" y="662" width="1" height="19" fill="#c0c0c0"/>
<rect x="928" y="662" width="1" height="15" fill="#c0c0c0"/>
<rect x="936" y="662" width="1" height="9" fill="#c0c0c0"/>
<rect x="944" y="659" width="1" height="4" fill="#c0c0c0"/>
<rect x="952" y="649" width="1" height="14" fill="#c0c0c0"/>
<rect x="960" y="642" width="1" height="21" fill="#c0c0c0"/>
<rect x="968" y="639" width="1" height="24" fill="#c0c0c0"/>
<rect x="976" y="639" width="1" height="24" fill="#c0c0c0"/>
<rect x="984" y="637" width="1" height="26" fill="#c0c0c0"/>
<rect x="992" y="644" width="1" height="19" fill="#c0c0c0"/>
<rect x="1000" y="651" width="1" height="12" fill="#c0c0c0"/>
<rect x="1008" y="655" width="1" height="8" fill="#c0c0c0"/>
<rect x="1016" y="653" width="1" height="10" fill="#c0c0c0"/>
<rect x="1024" y="650" width="1" height="13" fill="#c0c0c0"/>
<rect x="1032" y="657" width="1" height="6" fill="#c0c0c0"/>
<rect x="1040" y="662" width="1" height="1" fill="#c0c0c0"/>
<rect x="1048" y="662" width="1" height="9" fill="#c0c0c0"/>
<rect x="1056" y="662" width="1" height="17" fill="#c0c0c0"/>
<rect x="1064" y="662" width="1" height="22" fill="#c0c0c0"/>
<rect x="1072" y="662" width="1" height="26" fill="#c0c0c0"/>
<rect x="1080" y="662" width="1" height="32" fill="#c0c0c0"/>
<rect x="1088" y="662" width="1" height="41" fill="#c0c0c0"/>
<rect x="1096" y="662" width="1" height="47" fill="#c0c0c0"/>
<rect x="1104" y="662" width="1" height="49" fill="#c0c0c0"/>
<rect x="1112" y="662" width="1" height="47" fill="#c0c0c0"/>
<rect x="1120" y="662" width="1" height="46" fill="#c0c0c0"/>
<rect x="1128" y="662" width="1" height="47" fill="#c0c0c0"/>
<rect x="1136" y="662" width="1" height="51" fill="#c0c0c0"/>
<rect x="1144" y="662" width="1" height="51" fill="#c0c0c0"/>
<rect x="1152" y="662" width="1" height="51" fill="#c0c0c0"/>
<rect x="1160" y="662" width="1" height="47" fill="#c0c0c0"/>
<rect x="1168" y="662" width="1" height="38" fill="#c0c0c0"/>
<rect x="1176" y="662" width="1" height="31" fill="#c0c0c0"/>
<rect x="1184" y="662" width="1" height="28" fill="#c0c0c0"/>
<rect x="1192" y="662" width="1" height="29" fill="#c0c0c0"/>
<rect x="1200" y="662" width="1" height="30" fill="#c0c0c0"/>
<rect x="1208" y="662" width="1" height="31" fill="#c0c0c0"/>
<rect x="1216" y="662" width="1" height="32" fill="#c0c0c0"/>
<rect x="1224" y="662" width="1" height="32" fill="#c0c0c0"/>
<rect x="1232" y="662" width="1" height="37" fill="#c0c0c0"/>
<rect x="1240" y="662" width="1" height="40" fill="#c0c0c0"/>
<rect x="1248" y="662" width="1" height="42" fill="#c0c0c0"/>
<rect x="1256" y="662" width="1" height="43" fill="#c0c0c0"/>
<rect x="1264" y="662" width="1" height="43" fill="#c0c0c0"/>
<rect x="1272" y="662" width="1" height="44" fill="#c0c0c0"/>
<rect x="1280" y="662" width="1" height="53" fill="#c0c0c0"/>
<rect x="1288" y="662" width="1" height="62" fill="#c0c0c0"/>
<rect x="1296" y="662" width="1" height="64" fill="#c0c0c0"/>
<rect x="1304" y="662" width="1" height="68" fill="#c0c0c0"/>
<rect x="1312" y="662" width="1" height="73" fill="#c0c0c0"/>
<rect x="1320" y="662" width="1" height="73" fill="#c0c0c0"/>
<rect x="1328" y="662" width="1" height="74" fill="#c0c0c0"/>
<rect x="1336" y="662" width="1" height="70" fill="#c0c0c0"/>
<rect x="1344" y="662" width="1" height="66" fill="#c0c0c0"/>
<rect x="1352" y="662" width="1" height="62" fill="#c0c0c0"/>
<rect x="1360" y="662" width="1" height="60" fill="#c0c0c0"/>
<rect x="1368" y="662" width="1" height="59" fill="#c0c0c0"/>
<rect x="1376" y="662" width="1" height="61" fill="#c0c0c0"/>
<rect x="1384" y="662" width="1" height="59" fill="#c0c0c0"/>
<rect x="1392" y="662" width="1" height="54" fill="#c0c0c0"/>
<rect x="1400" y="662" width="1" height="53" fill="#c0c0c0"/>
<rect x="1408" y="662" width="1" height="53" fill="#c0c0c0"/>
<rect x="1416" y="662" width="1" height="53" fill="#c0c0c0"/>
<rect x="1424" y="662" width="1" height="51" fill="#c0c0c0"/>
<rect x="1432" y="662" width="1" height="51" fill="#c0c0c0"/>
<rect x="1440" y="662" width="1" height="50" fill="#c0c0c0"/>
<rect x="1448" y="662" width="1" height="50" fill="#c0c0c0"/>
<rect x="1456" y="662" width="1" height="53" fill="#c0c0c0"/>
<rect x="1464" y="662" width="1" height="57" fill="#c0c0c0"/>
<rect x="1472" y="662" width="1" height="64" fill="#c0c0c0"/>
<rect x="1480" y="662" width="1" height="65" fill="#c0c0c0"/>
<rect x="1488" y="662" width="1" height="67" fill="#c0c0c0"/>
</g>
<polyline points="0.5,681.5 8.5,679.5 16.5,678.5 24.5,677.5 32.5,677.5 40.5,678.5 48.5,678.5 56.5,679.5 64.5,682.5 72.5,684.5 80.5,688.5 88.5,692.5 96.5,695.5 104.5,698.5 112.5,700.5 120.5,701.5 128.5,702.5 136.5,703.5 144.5,702.5 152.5,702.5 160.5,700.5 168.5,698.5 176.5,694.5 184.5,689.5 192.5,683.5 200.5,677.5 208.5,669.5 216.5,661.5 224.5,652.5 232.5,643.5 240.5,635.5 248.5,627.5 256.5,621.5 264.5,616.5 272.5,613.5 280.5,611.5 288.5,610.5 296.5,611.5 304.5,613.5 312.5,617.5 320.5,621.5 328.5,626.5 336.5,630.5 344.5,633.5 352.5,635.5 360.5,637.5 368.5,639.5 376.5,640.5 384.5,641.5 392.5,641.5 400.5,642.5 408.5,643.5 416.5,644.5 424.5,645.5 432.5,646.5 440.5,646.5 448.5,646.5 456.5,645.5 464.5,645.5 472.5,645.5 480.5,646.5 488.5,647.5 496.5,649.5 504.5,652.5 512.5,654.5 520.5,656.5 528.5,658.5 536.5,659.5 544.5,660.5 552.5,659.5 560.5,658.5 568.5,655.5 576.5,650.5 584.5,645.5 592.5,640.5 600.5,633.5 608.5,625.5 616.5,617.5 624.5,609.5 632.5,603.5 640.5,599.5 648.5,596.5 656.5,595.5 664.5,595.5 672.5,596.5 680.5,598.5 688.5,601.5 696.5,604.5 704.5,607.5 712.5,611.5 720.5,613.5 728.5,617.5 736.5,622.5 744.5,628.5 752.5,636.5 760.5,645.5 768.5,654.5 776.5,662.5 784.5,670.5 792.5,677.5 800.5,683.5 808.5,688.5 816.5,692.5 824.5,696.5 832.5,698.5 840.5,700.5 848.5,701.5 856.5,703.5 864.5,705.5 872.5,707.5 880.5,708.5 888.5,709.5 896.5,708.5 904.5,706.5 912.5,704.5 920.5,701.5 928.5,697.5 936.5,693.5 944.5,687.5 952.5,680.5 960.5,673.5 968.5,666.5 976.5,660.5 984.5,655.5 992.5,651.5 1000.5,648.5 1008.5,646.5 1016.5,645.5 1024.5,646.5 1032.5,647.5 1040.5,650.5 1048.5,653.5 1056.5,658.5 1064.5,663.5 1072.5,667.5 1080.5,671.5 1088.5,677.5 1096.5,683.5 1104.5,689.5 1112.5,694.5 1120.5,698.5 1128.5,702.5 1136.5,705.5 1144.5,708.5 1152.5,710.5 1160.5,711.5 1168.5,710.5 1176.5,708.5 1184.5,705.5 1192.5,703.5 1200.5,702.5 1208.5,699.5 1216.5,697.5 1224.5,695.5 1232.5,694.5 1240.5,694.5 1248.5,695.5 1256.5,697.5 1264.5,699.5 1272.5,700.5 1280.5,703.5 1288.5,706.5 1296.5,710.5 1304.5,713.5 1312.5,717.5 1320.5,720.5 1328.5,724.5 1336.5,727.5 1344.5,729.5 1352.5,730.5 1360.5,730.5 1368.5,729.5 1376.5,728.5 1384.5,727.5 1392.5,725.5 1400.5,722.5 1408.5,720.5 1416.5,719.5 1424.5,718.5 1432.5,717.5 1440.5,716.5 1448.5,715.5 1456.5,714.5 1464.5,714.5 1472.5,715.5 1480.5,717.5 1488.5,718.5" fill="none" stroke="#ff0000" stroke-width="1" stroke-dasharray="3 3" shape-rendering="crispEdges"/>
</g>
<g clip-path="url(#crsi)">
<g shape-rendering="crispEdges">
<line x1="0" y1="783.5" x2="1651" y2="783.5" stroke="#c0c0c0" stroke-width="1" stroke-dasharray="3 3"/>
<line x1="0" y1="834.5" x2="1651" y2="834.5" stroke="#c0c0c0" stroke-width="1" stroke-dasharray="3 3"/>
<line x1="0" y1="895.5" x2="1651" y2="895.5" stroke="#c0c0c0" stroke-width="1" stroke-dasharray="3 3"/>
</g>
<polyline points="0.5,833.5 8.5,831.5 16.5,848.5 24.5,840.5 32.5,855.5 40.5,858.5 48.5,856.5 56.5,854.5 64.5,858.5 72.5,861.5 80.5,864.5 88.5,868.5 96.5,856.5 104.5,852.5 112.5,851.5 120.5,847.5 128.5,854.5 136.5,852.5 144.5,852.5 152.5,855.5 160.5,839.5 168.5,823.5 176.5,809.5 184.5,801.5 192.5,805.5 200.5,808.5 208.5,797.5 216.5,807.5 224.5,803.5 232.5,801.5 240.5,800.5 248.5,798.5 256.5,796.5 264.5,817.5 272.5,827.5 280.5,825.5 288.5,821.5 296.5,832.5 304.5,842.5 312.5,845.5 320.5,833.5 328.5,825.5 336.5,818.5 344.5,821.5 352.5,820.5 360.5,820.5 368.5,835.5 376.5,830.5 384.5,833.5 392.5,833.5 400.5,834.5 408.5,828.5 416.5,826.5 424.5,816.5 432.5,815.5 440.5,818.5 448.5,818.5 456.5,818.5 464.5,838.5 472.5,849.5 480.5,853.5 488.5,842.5 496.5,842.5 504.5,845.5 512.5,822.5 520.5,822.5 528.5,822.5 536.5,827.5 544.5,839.5 552.5,833.5 560.5,806.5 568.5,804.5 576.5,800.5 584.5,794.5 592.5,793.5 600.5,784.5 608.5,802.5 616.5,804.5 624.5,809.5 632.5,820.5 640.5,825.5 648.5,827.5 656.5,817.5 664.5,812.5 672.5,811.5 680.5,819.5 688.5,816.5 696.5,826.5 704.5,841.5 712.5,832.5 720.5,826.5 728.5,835.5 736.5,853.5 744.5,855.5 752.5,856.5 760.5,857.5 768.5,855.5 776.5,852.5 784.5,845.5 792.5,838.5 800.5,848.5 808.5,851.5 816.5,854.5 824.5,859.5 832.5,856.5 840.5,846.5 848.5,851.5 856.5,856.5 864.5,856.5 872.5,860.5 880.5,851.5 888.5,846.5 896.5,828.5 904.5,833.5 912.5,833.5 920.5,831.5 928.5,830.5 936.5,826.5 944.5,810.5 952.5,808.5 960.5,810.5 968.5,819.5 976.5,827.5 984.5,819.5 992.5,842.5 1000.5,844.5 1008.5,839.5 1016.5,828.5 1024.5,825.5 1032.5,844.5 1040.5,845.5 1048.5,851.5 1056.5,853.5 1064.5,851.5 1072.5,852.5 1080.5,857.5 1088.5,865.5 1096.5,863.5 1104.5,857.5 1112.5,848.5 1120.5,850.5 1128.5,854.5 1136.5,862.5 1144.5,854.5 1152.5,852.5 1160.5,846.5 1168.5,831.5 1176.5,831.5 1184.5,839.5 1192.5,848.5 1200.5,849.5 1208.5,848.5 1216.5,851.5 1224.5,850.5 1232.5,861.5 1240.5,862.5 1248.5,859.5 1256.5,858.5 1264.5,860.5 1272.5,861.5 1280.5,878.5 1288.5,881.5 1296.5,868.5 1304.5,872.5 1312.5,875.5 1320.5,867.5 1328.5,870.5 1336.5,853.5 1344.5,855.5 1352.5,850.5 1360.5,855.5 1368.5,859.5 1376.5,865.5 1384.5,855.5 1392.5,847.5 1400.5,854.5 1408.5,857.5 1416.5,858.5 1424.5,854.5 1432.5,857.5 1440.5,857.5 1448.5,860.5 1456.5,869.5 1464.5,872.5 1472.5,878.5 1480.5,868.5 1488.5,870.5" fill="none" stroke="#1e90ff" stroke-width="1" shape-rendering="crispEdges"/>
</g>
<g shape-rendering="crispEdges">
<rect x="1652" y="42" width="2" height="1" fill="#000"/>
<rect x="1652" y="75" width="2" height="1" fill="#000"/>
<rect x="1652" y="108" width="2" height="1" fill="#000"/>
<rect x="1652" y="142" width="2" height="1" fill="#000"/>
<rect x="1652" y="175" width="2" height="1" fill="#000"/>
<rect x="1652" y="208" width="2" height="1" fill="#000"/>
<rect x="1652" y="241" width="2" height="1" fill="#000"/>
<rect x="1652" y="274" width="2" height="1" fill="#000"/>
<rect x="1652" y="306" width="2" height="1" fill="#000"/>
<rect x="1652" y="339" width="2" height="1" fill="#000"/>
<rect x="1652" y="372" width="2" height="1" fill="#000"/>
<rect x="1652" y="406" width="2" height="1" fill="#000"/>
<rect x="1652" y="439" width="2" height="1" fill="#000"/>
<rect x="1652" y="472" width="2" height="1" fill="#000"/>
<rect x="1652" y="505" width="2" height="1" fill="#000"/>
<rect x="1652" y="538" width="2" height="1" fill="#000"/>
</g>
<text x="1657.50" y="46.00" font-size="10" fill="#000" textLength="32.00" lengthAdjust="spacingAndGlyphs" text-anchor="start" >1.29180</text>
<text x="1657.50" y="79.00" font-size="10" fill="#000" textLength="32.00" lengthAdjust="spacingAndGlyphs" text-anchor="start" >1.28810</text>
<text x="1657.50" y="112.00" font-size="10" fill="#000" textLength="32.00" lengthAdjust="spacingAndGlyphs" text-anchor="start" >1.28440</text>
<text x="1657.50" y="146.00" font-size="10" fill="#000" textLength="32.00" lengthAdjust="spacingAndGlyphs" text-anchor="start" >1.28060</text>
<text x="1657.50" y="179.00" font-size="10" fill="#000" textLength="32.00" lengthAdjust="spacingAndGlyphs" text-anchor="start" >1.27690</text>
<text x="1657.50" y="212.00" font-size="10" fill="#000" textLength="32.00" lengthAdjust="spacingAndGlyphs" text-anchor="start" >1.27320</text>
<text x="1657.50" y="245.00" font-size="10" fill="#000" textLength="32.00" lengthAdjust="spacingAndGlyphs" text-anchor="start" >1.26950</text>
<text x="1657.50" y="278.00" font-size="10" fill="#000" textLength="32.00" lengthAdjust="spacingAndGlyphs" text-anchor="start" >1.26580</text>
<text x="1657.50" y="310.00" font-size="10" fill="#000" textLength="32.00" lengthAdjust="spacingAndGlyphs" text-anchor="start" >1.26210</text>
<text x="1657.50" y="343.00" font-size="10" fill="#000" textLength="32.00" lengthAdjust="spacingAndGlyphs" text-anchor="start" >1.25840</text>
<text x="1657.50" y="376.00" font-size="10" fill="#000" textLength="32.00" lengthAdjust="spacingAndGlyphs" text-anchor="start" >1.25470</text>
<text x="1657.50" y="410.00" font-size="10" fill="#000" textLength="32.00" lengthAdjust="spacingAndGlyphs" text-anchor="start" >1.25090</text>
<text x="1657.50" y="443.00" font-size="10" fill="#000" textLength="32.00" lengthAdjust="spacingAndGlyphs" text-anchor="start" >1.24720</text>
<text x="1657.50" y="476.00" font-size="10" fill="#000" textLength="32.00" lengthAdjust="spacingAndGlyphs" text-anchor="start" >1.24350</text>
<text x="1657.50" y="509.00" font-size="10" fill="#000" textLength="32.00" lengthAdjust="spacingAndGlyphs" text-anchor="start" >1.23980</text>
<text x="1657.50" y="542.00" font-size="10" fill="#000" textLength="32.00" lengthAdjust="spacingAndGlyphs" text-anchor="start" >1.23610</text>
<g shape-rendering="crispEdges">
<rect x="1653" y="473" width="41" height="11" fill="#ff0000"/>
<rect x="1646.5" y="477.5" width="4" height="4" fill="#fff" stroke="#ff0000" stroke-width="1"/>
<rect x="1653" y="492" width="41" height="11" fill="#ff0000"/>
<rect x="1646.5" y="496.5" width="4" height="4" fill="#fff" stroke="#ff0000" stroke-width="1"/>
<rect x="1653" y="511" width="41" height="11" fill="#ffa500"/>
<rect x="1646.5" y="515.5" width="4" height="4" fill="#fff" stroke="#ffa500" stroke-width="1"/>
<rect x="1653" y="525" width="41" height="11" fill="#000000"/>
<rect x="1653" y="549" width="41" height="11" fill="#0000ff"/>
<rect x="1646.5" y="553.5" width="4" height="4" fill="#fff" stroke="#0000ff" stroke-width="1"/>
<rect x="1653" y="566" width="41" height="11" fill="#0000ff"/>
<rect x="1646.5" y="570.5" width="4" height="4" fill="#fff" stroke="#0000ff" stroke-width="1"/>
</g>
<text x="1655.50" y="483.00" font-size="10" fill="#fff" textLength="36.00" lengthAdjust="spacingAndGlyphs" text-anchor="start" >1.24266</text>
<text x="1655.50" y="502.00" font-size="10" fill="#fff" textLength="36.00" lengthAdjust="spacingAndGlyphs" text-anchor="start" >1.24052</text>
<text x="1655.50" y="521.00" font-size="10" fill="#fff" textLength="36.00" lengthAdjust="spacingAndGlyphs" text-anchor="start" >1.23839</text>
<text x="1655.50" y="535.00" font-size="10" fill="#fff" textLength="36.00" lengthAdjust="spacingAndGlyphs" text-anchor="start" >1.23678</text>
<text x="1655.50" y="559.00" font-size="10" fill="#fff" textLength="36.00" lengthAdjust="spacingAndGlyphs" text-anchor="start" >1.23411</text>
<text x="1655.50" y="576.00" font-size="10" fill="#fff" textLength="36.00" lengthAdjust="spacingAndGlyphs" text-anchor="start" >1.23221</text>
<g shape-rendering="crispEdges">
<rect x="1652" y="577" width="2" height="1" fill="#000"/>
<rect x="1652" y="662" width="2" height="1" fill="#000"/>
<rect x="1652" y="744" width="2" height="1" fill="#000"/>
<rect x="1652" y="748" width="2" height="1" fill="#000"/>
<rect x="1652" y="783" width="2" height="1" fill="#000"/>
<rect x="1652" y="834" width="2" height="1" fill="#000"/>
<rect x="1652" y="895" width="2" height="1" fill="#000"/>
<rect x="1652" y="920" width="2" height="1" fill="#000"/>
<rect x="56" y="922" width="1" height="3" fill="#000"/>
<rect x="120" y="922" width="1" height="3" fill="#000"/>
<rect x="184" y="922" width="1" height="3" fill="#000"/>
<rect x="248" y="922" width="1" height="3" fill="#000"/>
<rect x="312" y="922" width="1" height="3" fill="#000"/>
<rect x="376" y="922" width="1" height="3" fill="#000"/>
<rect x="440" y="922" width="1" height="3" fill="#000"/>
<rect x="504" y="922" width="1" height="3" fill="#000"/>
<rect x="568" y="922" width="1" height="3" fill="#000"/>
<rect x="632" y="922" width="1" height="3" fill="#000"/>
<rect x="696" y="922" width="1" height="3" fill="#000"/>
<rect x="760" y="922" width="1" height="3" fill="#000"/>
<rect x="824" y="922" width="1" height="3" fill="#000"/>
<rect x="888" y="922" width="1" height="3" fill="#000"/>
<rect x="952" y="922" width="1" height="3" fill="#000"/>
<rect x="1016" y="922" width="1" height="3" fill="#000"/>
<rect x="1080" y="922" width="1" height="3" fill="#000"/>
<rect x="1144" y="922" width="1" height="3" fill="#000"/>
<rect x="1208" y="922" width="1" height="3" fill="#000"/>
<rect x="1272" y="922" width="1" height="3" fill="#000"/>
<rect x="1336" y="922" width="1" height="3" fill="#000"/>
<rect x="1400" y="922" width="1" height="3" fill="#000"/>
<rect x="1464" y="922" width="1" height="3" fill="#000"/>
</g>
<text x="1655.00" y="586.00" font-size="10" fill="#000" textLength="38.00" lengthAdjust="spacingAndGlyphs" text-anchor="start" >0.004774</text>
<text x="1655.00" y="666.00" font-size="10" fill="#000" textLength="17.50" lengthAdjust="spacingAndGlyphs" text-anchor="start" >0.00</text>
<text x="1655.00" y="742.00" font-size="10" fill="#000" textLength="41.00" lengthAdjust="spacingAndGlyphs" text-anchor="start" >-0.004637</text>
<text x="1655.00" y="758.00" font-size="10" fill="#000" textLength="15.00" lengthAdjust="spacingAndGlyphs" text-anchor="start" >100</text>
<text x="1655.00" y="787.00" font-size="10" fill="#000" textLength="10.00" lengthAdjust="spacingAndGlyphs" text-anchor="start" >80</text>
<text x="1655.00" y="838.50" font-size="10" fill="#000" textLength="10.00" lengthAdjust="spacingAndGlyphs" text-anchor="start" >50</text>
<text x="1655.00" y="899.00" font-size="10" fill="#000" textLength="10.00" lengthAdjust="spacingAndGlyphs" text-anchor="start" >15</text>
<text x="1655.00" y="918.00" font-size="10" fill="#000" textLength="5.00" lengthAdjust="spacingAndGlyphs" text-anchor="start" >0</text>
<text x="55.00" y="934.00" font-size="10" fill="#000" textLength="49.02" lengthAdjust="spacingAndGlyphs" text-anchor="start" >3&#160;Sep&#160;00:00</text>
<text x="119.00" y="934.00" font-size="10" fill="#000" textLength="49.02" lengthAdjust="spacingAndGlyphs" text-anchor="start" >6&#160;Sep&#160;08:00</text>
<text x="183.00" y="934.00" font-size="10" fill="#000" textLength="49.02" lengthAdjust="spacingAndGlyphs" text-anchor="start" >7&#160;Sep&#160;16:00</text>
<text x="247.00" y="934.00" font-size="10" fill="#000" textLength="49.02" lengthAdjust="spacingAndGlyphs" text-anchor="start" >9&#160;Sep&#160;00:00</text>
<text x="311.00" y="934.00" font-size="10" fill="#000" textLength="54.08" lengthAdjust="spacingAndGlyphs" text-anchor="start" >10&#160;Sep&#160;08:00</text>
<text x="375.00" y="934.00" font-size="10" fill="#000" textLength="54.08" lengthAdjust="spacingAndGlyphs" text-anchor="start" >13&#160;Sep&#160;16:00</text>
<text x="439.00" y="934.00" font-size="10" fill="#000" textLength="54.08" lengthAdjust="spacingAndGlyphs" text-anchor="start" >15&#160;Sep&#160;00:00</text>
<text x="503.00" y="934.00" font-size="10" fill="#000" textLength="54.08" lengthAdjust="spacingAndGlyphs" text-anchor="start" >16&#160;Sep&#160;08:00</text>
<text x="567.00" y="934.00" font-size="10" fill="#000" textLength="54.08" lengthAdjust="spacingAndGlyphs" text-anchor="start" >17&#160;Sep&#160;16:00</text>
<text x="631.00" y="934.00" font-size="10" fill="#000" textLength="54.08" lengthAdjust="spacingAndGlyphs" text-anchor="start" >21&#160;Sep&#160;00:00</text>
<text x="695.00" y="934.00" font-size="10" fill="#000" textLength="54.08" lengthAdjust="spacingAndGlyphs" text-anchor="start" >22&#160;Sep&#160;08:00</text>
<text x="759.00" y="934.00" font-size="10" fill="#000" textLength="54.08" lengthAdjust="spacingAndGlyphs" text-anchor="start" >23&#160;Sep&#160;16:00</text>
<text x="823.00" y="934.00" font-size="10" fill="#000" textLength="54.08" lengthAdjust="spacingAndGlyphs" text-anchor="start" >27&#160;Sep&#160;00:00</text>
<text x="887.00" y="934.00" font-size="10" fill="#000" textLength="54.08" lengthAdjust="spacingAndGlyphs" text-anchor="start" >28&#160;Sep&#160;08:00</text>
<text x="951.00" y="934.00" font-size="10" fill="#000" textLength="54.08" lengthAdjust="spacingAndGlyphs" text-anchor="start" >29&#160;Sep&#160;16:00</text>
<text x="1015.00" y="934.00" font-size="10" fill="#000" textLength="46.99" lengthAdjust="spacingAndGlyphs" text-anchor="start" >1&#160;Oct&#160;00:00</text>
<text x="1079.00" y="934.00" font-size="10" fill="#000" textLength="46.99" lengthAdjust="spacingAndGlyphs" text-anchor="start" >4&#160;Oct&#160;08:00</text>
<text x="1143.00" y="934.00" font-size="10" fill="#000" textLength="46.99" lengthAdjust="spacingAndGlyphs" text-anchor="start" >5&#160;Oct&#160;16:00</text>
<text x="1207.00" y="934.00" font-size="10" fill="#000" textLength="46.99" lengthAdjust="spacingAndGlyphs" text-anchor="start" >7&#160;Oct&#160;00:00</text>
<text x="1271.00" y="934.00" font-size="10" fill="#000" textLength="46.99" lengthAdjust="spacingAndGlyphs" text-anchor="start" >8&#160;Oct&#160;08:00</text>
<text x="1335.00" y="934.00" font-size="10" fill="#000" textLength="51.37" lengthAdjust="spacingAndGlyphs" text-anchor="start" >11&#160;Oct&#160;16:00</text>
<text x="1399.00" y="934.00" font-size="10" fill="#000" textLength="52.05" lengthAdjust="spacingAndGlyphs" text-anchor="start" >13&#160;Oct&#160;00:00</text>
<text x="1463.00" y="934.00" font-size="10" fill="#000" textLength="52.05" lengthAdjust="spacingAndGlyphs" text-anchor="start" >14&#160;Oct&#160;08:00</text>
<text x="-8.00" y="934.00" font-size="10" fill="#000" textLength="46.50" lengthAdjust="spacingAndGlyphs" text-anchor="start" >2&#160;Sep&#160;2021</text>
<text x="-2.00" y="588.00" font-size="10" fill="#000" textLength="152.00" lengthAdjust="spacingAndGlyphs" text-anchor="start" >MACD(12,26,9)&#160;-0.003793&#160;-0.003184</text>
<text x="-5.00" y="760.00" font-size="10" fill="#000" textLength="68.70" lengthAdjust="spacingAndGlyphs" text-anchor="start" >RSI(14)&#160;28.9967</text>
<text x="7.50" y="31.50" font-size="10" fill="#000" textLength="205.00" lengthAdjust="spacingAndGlyphs" text-anchor="start" >USDCAD-,H4&#160;&#160;1.23772&#160;1.23778&#160;1.23668&#160;1.23678</text>
<g clip-path="url(#cm)">
<rect x="881.5" y="163.5" width="61" height="18" fill="#fff" stroke="#ff0000" stroke-width="1" shape-rendering="crispEdges"/>
<text x="884.00" y="178.00" font-size="16.5" fill="#ff0000" textLength="57.00" lengthAdjust="spacingAndGlyphs" text-anchor="start" >1.27722</text>
<rect x="943" y="172" width="9" height="1" fill="#ff0000" shape-rendering="crispEdges"/>
<rect x="1281.5" y="508.5" width="61" height="18" fill="#fff" stroke="#ff0000" stroke-width="1" shape-rendering="crispEdges"/>
<text x="1284.00" y="523.00" font-size="16.5" fill="#ff0000" textLength="57.00" lengthAdjust="spacingAndGlyphs" text-anchor="start" >1.23839</text>
<rect x="1343.5" y="515.5" width="2" height="3" fill="#fff" stroke="#ff0000" shape-rendering="crispEdges"/>
<rect x="1346" y="517" width="7" height="1" fill="#ff0000" shape-rendering="crispEdges"/>
<rect x="1401.5" y="535.5" width="61" height="18" fill="#fff" stroke="#ff0000" stroke-width="1" shape-rendering="crispEdges"/>
<text x="1404.00" y="550.00" font-size="16.5" fill="#ff0000" textLength="57.00" lengthAdjust="spacingAndGlyphs" text-anchor="start" >1.23527</text>
<rect x="1463.5" y="542.5" width="2" height="3" fill="#fff" stroke="#ff0000" shape-rendering="crispEdges"/>
<rect x="1466" y="544" width="7" height="1" fill="#ff0000" shape-rendering="crispEdges"/>
<line x1="1184" y1="301" x2="1292.1" y2="451.4" stroke="#ff0000" stroke-width="3.2" stroke-linecap="round"/>
<polygon points="1296.5,457.5 1287.5,452.3 1294.4,447.3" fill="#ff0000"/>
<line x1="1294.5" y1="461.5" x2="1414.6" y2="440.8" stroke="#ff0000" stroke-width="3.2" stroke-linecap="round"/>
<polygon points="1422,439.5 1413.4,445.3 1411.9,436.9" fill="#ff0000"/>
<line x1="1423" y1="440" x2="1503.1" y2="549.4" stroke="#ff0000" stroke-width="3.2" stroke-linecap="round"/>
<polygon points="1507.5,555.5 1498.5,550.3 1505.3,545.3" fill="#ff0000"/>
</g>
<g clip-path="url(#cmacd)">
<line x1="1413.5" y1="712" x2="1496.6" y2="728.5" stroke="#ff0000" stroke-width="3.2" stroke-linecap="round"/>
<polygon points="1504,730 1493.9,732.3 1495.5,724.0" fill="#ff0000"/>
</g>
<g clip-path="url(#crsi)">
<line x1="1380" y1="847" x2="1497.7" y2="875.7" stroke="#ff0000" stroke-width="3.2" stroke-linecap="round"/>
<polygon points="1505,877.5 1494.8,879.4 1496.8,871.1" fill="#ff0000"/>
</g>
<polygon points="1479,21 1488,21 1483.5,26" fill="#c0c0c0"/>
<polygon points="0,29 2,31 0,31" fill="#000"/>
<defs><linearGradient id="gbtn" x1="0" y1="0" x2="0" y2="1"><stop offset="0" stop-color="#ff5c5c"/><stop offset="1" stop-color="#e2302f"/></linearGradient><linearGradient id="gpx" x1="0" y1="0" x2="0" y2="1"><stop offset="0" stop-color="#de2626"/><stop offset="1" stop-color="#b00202"/></linearGradient><linearGradient id="gsp" x1="0" y1="0" x2="0" y2="1"><stop offset="0" stop-color="#f2f2f2"/><stop offset="0.45" stop-color="#ebebeb"/><stop offset="0.5" stop-color="#d8d8d8"/><stop offset="1" stop-color="#d2d2d2"/></linearGradient></defs>
<g shape-rendering="crispEdges">
<rect x="0" y="64" width="104" height="33" fill="url(#gpx)"/>
<rect x="0" y="40" width="47" height="24" fill="url(#gbtn)"/>
<path d="M0,40.5 H46.5 V64.5 H103.5 V96.5 H0" fill="none" stroke="#b00000" stroke-width="1"/>
<rect x="0" y="63" width="43" height="1" fill="#8a0000"/><rect x="0" y="64" width="43" height="1" fill="#ff7a7a"/>
<rect x="106" y="64" width="108" height="33" fill="url(#gpx)"/>
<rect x="162" y="40" width="52" height="24" fill="url(#gbtn)"/>
<path d="M106.5,96.5 V64.5 H162.5 V40.5 H213.5 V96.5 Z" fill="none" stroke="#b00000" stroke-width="1"/>
<rect x="166" y="63" width="44" height="1" fill="#8a0000"/><rect x="166" y="64" width="44" height="1" fill="#ff7a7a"/>
<rect x="49.5" y="40.5" width="110" height="21" fill="#fff" stroke="#a4a8b0" stroke-width="1"/>
<rect x="51" y="42" width="19" height="18" fill="url(#gsp)"/>
<rect x="70" y="41" width="1" height="20" fill="#c0c4cc"/>
<rect x="139" y="42" width="20" height="18" fill="url(#gsp)"/>
<rect x="138" y="41" width="1" height="20" fill="#c0c4cc"/>
</g>
<polygon points="57,49 62.5,49 59.75,52" fill="#4a62c8"/>
<polygon points="146,52 151.5,52 148.75,49" fill="#4a62c8"/>
<text x="134.60" y="55.00" font-size="12.5" fill="#000" textLength="23.00" lengthAdjust="spacingAndGlyphs" text-anchor="end" >1.00</text>
<text x="7.50" y="56.00" font-size="11.5" fill="#fff" textLength="25.50" lengthAdjust="spacingAndGlyphs" text-anchor="start" >SELL</text>
<text x="175.50" y="56.00" font-size="11.5" fill="#fff" textLength="23.50" lengthAdjust="spacingAndGlyphs" text-anchor="start" >BUY</text>
<text x="15.50" y="91.50" font-size="11.5" fill="#fff" font-weight="bold" textLength="22.50" lengthAdjust="spacingAndGlyphs" text-anchor="start" >1.23</text>
<text x="43.00" y="92.00" font-size="34.5" fill="#fff" textLength="33.00" lengthAdjust="spacingAndGlyphs" text-anchor="start" >67</text>
<text x="82.00" y="75.50" font-size="11.5" fill="#fff" font-weight="bold" textLength="7.00" lengthAdjust="spacingAndGlyphs" text-anchor="start" >8</text>
<text x="125.50" y="91.50" font-size="11.5" fill="#fff" font-weight="bold" textLength="23.00" lengthAdjust="spacingAndGlyphs" text-anchor="start" >1.23</text>
<text x="154.00" y="92.00" font-size="34.5" fill="#fff" textLength="33.00" lengthAdjust="spacingAndGlyphs" text-anchor="start" >72</text>
<text x="192.50" y="75.50" font-size="11.5" fill="#fff" font-weight="bold" textLength="7.50" lengthAdjust="spacingAndGlyphs" text-anchor="start" >0</text>
<defs><linearGradient id="ggold" x1="0" y1="0" x2="1" y2="1"><stop offset="0" stop-color="#ffe27a"/><stop offset="0.6" stop-color="#e0a820"/><stop offset="1" stop-color="#a06a08"/></linearGradient><linearGradient id="gyel" x1="0" y1="0" x2="0" y2="1"><stop offset="0" stop-color="#fff4a0"/><stop offset="1" stop-color="#e8c030"/></linearGradient><linearGradient id="gclk" x1="0" y1="0" x2="0" y2="1"><stop offset="0" stop-color="#6fb6ff"/><stop offset="1" stop-color="#1f5fc0"/></linearGradient><pattern id="pchk" width="2" height="2" patternUnits="userSpaceOnUse"><rect width="2" height="2" fill="#f4f4f4"/><rect width="1" height="1" fill="#e4e4e4"/><rect x="1" y="1" width="1" height="1" fill="#e4e4e4"/></pattern></defs>
<defs><clipPath id="ctb"><rect x="0" y="0" width="1698" height="16"/></clipPath></defs>
<g clip-path="url(#ctb)">
<rect x="287" y="0" width="24" height="15" fill="url(#pchk)"/>
<rect x="626" y="0" width="25" height="15" fill="url(#pchk)"/>
<rect x="1073" y="0" width="24" height="14" fill="url(#pchk)"/>
<rect x="1072" y="0" width="1" height="14" fill="#808080" shape-rendering="crispEdges"/>
<rect x="286" y="0" width="1" height="15" fill="#c8c8c8" shape-rendering="crispEdges"/>
<rect x="626" y="0" width="1" height="15" fill="#a0a0a0" shape-rendering="crispEdges"/>
<circle cx="-1.5" cy="2.5" r="3.2" fill="#cfe4ff" stroke="#3b78d8" stroke-width="1.4"/>
<line x1="1" y1="8" x2="4.5" y2="12.5" stroke="#c8a030" stroke-width="2.6" stroke-linecap="round"/>
<rect x="12" y="0" width="1" height="14" fill="#a0a0a0" shape-rendering="crispEdges"/><rect x="13" y="0" width="1" height="14" fill="#ffffff" shape-rendering="crispEdges"/>
<rect x="22.5" y="-3.5" width="11" height="13" fill="#fff" stroke="#8c8c8c"/>
<rect x="24" y="2" width="7" height="1" fill="#9a9a9a"/><rect x="24" y="4" width="6" height="1" fill="#9a9a9a"/>
<path d="M30,3 h4 v3.5 h3.5 v4 h-3.5 v3.5 h-4 v-3.5 h-3.5 v-4 h3.5 z" fill="#2ad02a" stroke="#139013" stroke-width="0.8"/>
<path d="M41,1.5 H49 M42,3.5 H48.5 M45,3.5 V8.5 M41.5,6 L43.5,7.5 M48.5,5.5 L46.5,7.5 M50.5,0.5 V8.5 M50.5,3.5 H53.5 M52.5,3.5 V8.5" fill="none" stroke="#1a1a1a" stroke-width="1.1" stroke-linecap="square"/>
<path d="M56,0.5 L57.5,2 M55.5,4 H57 V8.5 L58.5,7 M59.5,1.5 H65.5 M63,1.5 V8.5 L61.5,7.5" fill="none" stroke="#1a1a1a" stroke-width="1.1" stroke-linecap="square"/>
<path d="M68.5,1.5 H76.5 V5.5 H68.5 Z M68.5,3.5 H76.5 M66.5,7 H78.5 M72.5,0 V8.5" fill="none" stroke="#1a1a1a" stroke-width="1.1" stroke-linecap="square"/>
<polygon points="97,-2 105,6 99,12 89,5" fill="url(#ggold)" stroke="#a06a08" stroke-width="0.8"/>
<polyline points="90,6 99,11.5 104.5,6.5" fill="none" stroke="#fff3c0" stroke-width="0.8"/>
<rect x="119" y="-3" width="11" height="8" fill="#2c8ae0"/><rect x="121" y="-3" width="2" height="8" fill="#bfe0ff"/><rect x="124" y="0" width="5" height="1.5" fill="#bfe0ff"/>
<circle cx="120.2" cy="8.6" r="4.1000000000000005" fill="#8193ac"/>
<circle cx="124.8" cy="6.6" r="4.5" fill="#8193ac"/>
<circle cx="129.6" cy="8.4" r="4.1000000000000005" fill="#8193ac"/>
<rect x="119" y="8" width="12" height="4.4" rx="1.5" fill="#8193ac"/>
<circle cx="120.2" cy="8.6" r="3.2" fill="#f3f6fa"/>
<circle cx="124.8" cy="6.6" r="3.6" fill="#f3f6fa"/>
<circle cx="129.6" cy="8.4" r="3.2" fill="#f3f6fa"/>
<rect x="119.5" y="8.5" width="11" height="3" fill="#e6ecf4"/>
<circle cx="153" cy="3.5" r="2" fill="none" stroke="#2a6ad8" stroke-width="1"/>
<circle cx="153" cy="3.5" r="4.2" fill="none" stroke="#6d9ae6" stroke-width="1"/>
<circle cx="153" cy="3.5" r="6.4" fill="none" stroke="#a9c2ee" stroke-width="1"/>
<path d="M153,3.5 V11.5 M153,11.5 C157,11 160,8 160.5,4" fill="none" stroke="#2aa02a" stroke-width="1.3"/>
<circle cx="153" cy="3.5" r="1.2" fill="#1f4fc0"/>
<ellipse cx="180" cy="0" rx="8" ry="3.5" fill="#6fa8dc" stroke="#4a7ab0" stroke-width="0.8"/>
<path d="M172.5,2.5 L178,10.5 L184,11 L188,4 Z" fill="url(#gyel)" stroke="#c09a20" stroke-width="0.6"/>
<circle cx="184.5" cy="7.5" r="4" fill="#d52b12"/><rect x="183" y="6" width="3" height="3" fill="#fff"/>
<path d="M195.5,1 H201.5 V9 H195.5 Z M195.5,3.5 H201.5 M195.5,6.2 H201.5" fill="none" stroke="#1a1a1a" stroke-width="1.1" stroke-linecap="square"/>
<path d="M204,1.5 H208.5 M203.5,4.5 H209.5 M206,4.5 L204,8 L208.5,7.5 M209,4.5 M212.5,0.5 V7 C212.5,8.5 211.5,9 210,8.5 M210,3.5 H214.5 V9" fill="none" stroke="#1a1a1a" stroke-width="1.1" stroke-linecap="square"/>
<path d="M222,0.5 V1.5 M217,2 H227 M219.5,3.5 L218,5 M224.5,3.5 L226,5 M219,5.5 L225.5,9 M225,5.5 L218.5,9" fill="none" stroke="#1a1a1a" stroke-width="1.1" stroke-linecap="square"/>
<path d="M230,0.5 H236 V4 H230 Z M230,2.3 H236 M229.5,5.5 H239 L237.5,9 M232.5,5.5 L230,9 M235,5.5 L232.5,9" fill="none" stroke="#1a1a1a" stroke-width="1.1" stroke-linecap="square"/>
<rect x="248" y="0" width="1" height="14" fill="#a0a0a0" shape-rendering="crispEdges"/><rect x="249" y="0" width="1" height="14" fill="#ffffff" shape-rendering="crispEdges"/>
<rect x="251" y="1" width="3" height="1" fill="#a8a8a8" shape-rendering="crispEdges"/>
<rect x="251" y="3" width="3" height="1" fill="#a8a8a8" shape-rendering="crispEdges"/>
<rect x="251" y="5" width="3" height="1" fill="#a8a8a8" shape-rendering="crispEdges"/>
<rect x="251" y="7" width="3" height="1" fill="#a8a8a8" shape-rendering="crispEdges"/>
<rect x="251" y="9" width="3" height="1" fill="#a8a8a8" shape-rendering="crispEdges"/>
<rect x="251" y="11" width="3" height="1" fill="#a8a8a8" shape-rendering="crispEdges"/>
<rect x="251" y="13" width="3" height="1" fill="#a8a8a8" shape-rendering="crispEdges"/>
<path d="M267.5,-1 V11 M264,10.5 H278" stroke="#505050" stroke-width="1" fill="none" shape-rendering="crispEdges"/>
<path d="M276,9 L278,10.5 L276,12 M266,1 L267.5,-1" stroke="#505050" stroke-width="1" fill="none"/>
<path d="M270,7.5 H273 V1.5 H276 M273,-1 V3" stroke="#1aa01a" stroke-width="1.2" fill="none" shape-rendering="crispEdges"/>
<rect x="285" y="0" width="1" height="14" fill="#a0a0a0" shape-rendering="crispEdges"/><rect x="286" y="0" width="1" height="14" fill="#ffffff" shape-rendering="crispEdges"/>
<path d="M295.5,-1 V11 M292,10.5 H306" stroke="#505050" stroke-width="1" fill="none" shape-rendering="crispEdges"/>
<path d="M304,9 L306,10.5 L304,12 M294,1 L295.5,-1" stroke="#505050" stroke-width="1" fill="none"/>
<rect x="298" y="-1" width="4" height="7" fill="#22c022" stroke="#138013" stroke-width="0.8"/><rect x="299.5" y="6" width="1" height="3" fill="#138013"/>
<path d="M323.5,-1 V11 M320,10.5 H334" stroke="#505050" stroke-width="1" fill="none" shape-rendering="crispEdges"/>
<path d="M332,9 L334,10.5 L332,12 M322,1 L323.5,-1" stroke="#505050" stroke-width="1" fill="none"/>
<path d="M325,6 C327,1 330,0 334,4" stroke="#1aa01a" stroke-width="1.2" fill="none"/>
<rect x="343" y="0" width="1" height="14" fill="#a0a0a0" shape-rendering="crispEdges"/><rect x="344" y="0" width="1" height="14" fill="#ffffff" shape-rendering="crispEdges"/>
<line x1="360" y1="5" x2="366" y2="11" stroke="#c8a030" stroke-width="2.6" stroke-linecap="round"/>
<circle cx="356" cy="1" r="4.5" fill="#d6ecff" stroke="#2f78d8" stroke-width="1.3"/>
<rect x="353.5" y="0.5" width="5" height="1.3" fill="#2f78d8"/>
<rect x="355.35" y="-1.5" width="1.3" height="5" fill="#2f78d8"/>
<line x1="388" y1="5" x2="394" y2="11" stroke="#c8a030" stroke-width="2.6" stroke-linecap="round"/>
<circle cx="384" cy="1" r="4.5" fill="#d6ecff" stroke="#2f78d8" stroke-width="1.3"/>
<rect x="381.5" y="0.5" width="5" height="1.3" fill="#2f78d8"/>
<rect x="408.5" y="-3.5" width="7" height="7" fill="#e8f6e8" stroke="#2a9a2a"/><rect x="416.5" y="-3.5" width="7" height="7" fill="#ffffff" stroke="#2a62c0"/>
<rect x="408.5" y="4.5" width="7" height="7" fill="#2a62c0" stroke="#2a62c0"/><rect x="416.5" y="4.5" width="7" height="7" fill="#44aa44" stroke="#2a9a2a"/>
<rect x="410" y="7" width="4" height="2" fill="#fff"/><rect x="418" y="7" width="4" height="2" fill="#eaffea"/>
<rect x="433" y="0" width="1" height="14" fill="#a0a0a0" shape-rendering="crispEdges"/><rect x="434" y="0" width="1" height="14" fill="#ffffff" shape-rendering="crispEdges"/>
<path d="M447.5,-1 V11 M444,10.5 H458" stroke="#505050" stroke-width="1" fill="none" shape-rendering="crispEdges"/>
<path d="M456,9 L458,10.5 L456,12 M446,1 L447.5,-1" stroke="#505050" stroke-width="1" fill="none"/>
<polygon points="452,-1 456,2.5 452,6" fill="#22c022"/>
<rect x="466" y="0" width="1" height="14" fill="#a0a0a0" shape-rendering="crispEdges"/><rect x="467" y="0" width="1" height="14" fill="#ffffff" shape-rendering="crispEdges"/>
<path d="M475.5,-1 V11 M472,10.5 H486" stroke="#505050" stroke-width="1" fill="none" shape-rendering="crispEdges"/>
<path d="M484,9 L486,10.5 L484,12 M474,1 L475.5,-1" stroke="#505050" stroke-width="1" fill="none"/>
<rect x="479" y="-1" width="1" height="11" fill="#2a62c0"/><path d="M481,3 H486 M481,3 L483,1 M481,3 L483,5" stroke="#e02020" stroke-width="1.2" fill="none"/>
<rect x="495" y="0" width="1" height="14" fill="#a0a0a0" shape-rendering="crispEdges"/><rect x="496" y="0" width="1" height="14" fill="#ffffff" shape-rendering="crispEdges"/>
<rect x="505.5" y="-3.5" width="10" height="12" fill="#fff" stroke="#8c8c8c"/>
<path d="M512,3 h4 v3.5 h3.5 v4 h-3.5 v3.5 h-4 v-3.5 h-3.5 v-4 h3.5 z" fill="#2ad02a" stroke="#139013" stroke-width="0.8"/>
<polygon points="526,3.5 532,3.5 529,6.5" fill="#1a1a1a"/>
<circle cx="551" cy="3.5" r="7.5" fill="url(#gclk)"/><circle cx="551" cy="3.5" r="5.3" fill="#fafcff"/>
<path d="M551,0 V4 H554" stroke="#333" stroke-width="1" fill="none"/>
<polygon points="565,3.5 571,3.5 568,6.5" fill="#1a1a1a"/>
<rect x="582.5" y="-3.5" width="15" height="14" fill="#fff" stroke="#3a70c8"/><rect x="583" y="10" width="15" height="1" fill="#3a70c8"/>
<path d="M584,1 L587,0 L590,1 L593,-0.5 L596,0.5" stroke="#b03010" stroke-width="1" fill="none"/><rect x="583" y="3" width="14" height="1" fill="#3a70c8"/>
<path d="M584,8 L587,6 L590,7.5 L593,5.5 L596,7" stroke="#20a020" stroke-width="1" fill="none"/>
<polygon points="605,3.5 611,3.5 608,6.5" fill="#1a1a1a"/>
<rect x="616" y="0" width="1" height="16" fill="#a0a0a0"/>
<rect x="620" y="1" width="3" height="1" fill="#a8a8a8" shape-rendering="crispEdges"/>
<rect x="620" y="3" width="3" height="1" fill="#a8a8a8" shape-rendering="crispEdges"/>
<rect x="620" y="5" width="3" height="1" fill="#a8a8a8" shape-rendering="crispEdges"/>
<rect x="620" y="7" width="3" height="1" fill="#a8a8a8" shape-rendering="crispEdges"/>
<rect x="620" y="9" width="3" height="1" fill="#a8a8a8" shape-rendering="crispEdges"/>
<rect x="620" y="11" width="3" height="1" fill="#a8a8a8" shape-rendering="crispEdges"/>
<rect x="620" y="13" width="3" height="1" fill="#a8a8a8" shape-rendering="crispEdges"/>
<path d="M634.5,-1 L634.5,9 L637,7 L639,11 L640.5,10.3 L638.6,6.4 L641.8,6.2 Z" fill="#4a4a4a"/>
<path d="M659,4.5 H665 M667,4.5 H673 M666,-2 V3.5 M666,5.5 V12" stroke="#505050" stroke-width="1" fill="none" shape-rendering="crispEdges"/>
<rect x="683" y="0" width="1" height="14" fill="#a0a0a0" shape-rendering="crispEdges"/><rect x="684" y="0" width="1" height="14" fill="#ffffff" shape-rendering="crispEdges"/>
<rect x="700" y="0" width="1" height="10" fill="#505050"/>
<rect x="723" y="4" width="12" height="1" fill="#505050"/>
<line x1="750.5" y1="11" x2="762.5" y2="0" stroke="#505050" stroke-width="1"/>
<path d="M777,9 L787,-1 M779,10 L789,0 M778,5 L781,8 M781,2 L785,6 M777,4 H789 M779,7 H790" stroke="#505050" stroke-width="0.9" fill="none"/>
<text x="788" y="13" font-size="7" font-weight="bold" fill="#505050">E</text>
<path d="M806,0.5 H818 M806,3.5 H818 M806,7.5 H816" stroke="#505050" stroke-width="1" stroke-dasharray="1 1" fill="none" shape-rendering="crispEdges"/>
<text x="816" y="13" font-size="7" font-weight="bold" fill="#505050">F</text>
<text x="836.5" y="8.5" font-size="11" fill="#505050" textLength="9" lengthAdjust="spacingAndGlyphs">A</text>
<rect x="862.5" y="-2.5" width="12" height="13" fill="none" stroke="#606060" stroke-width="1" stroke-dasharray="1 1" shape-rendering="crispEdges"/>
<path d="M865,1 H872 M868.5,1 V8" stroke="#505050" stroke-width="1.6" fill="none" shape-rendering="crispEdges"/>
<path d="M890,1 L893,5 L898,-1 M895,5 L899,9" stroke="#404040" stroke-width="1.3" fill="none"/><polygon points="897,6 903,8 899,11" fill="#404040"/><polygon points="889,0 893,-1 891,3" fill="#404040"/>
<polygon points="911,3.5 917,3.5 914,6.5" fill="#1a1a1a"/>
<rect x="922" y="0" width="1" height="14" fill="#a0a0a0" shape-rendering="crispEdges"/><rect x="923" y="0" width="1" height="14" fill="#ffffff" shape-rendering="crispEdges"/>
<rect x="926" y="1" width="3" height="1" fill="#a8a8a8" shape-rendering="crispEdges"/>
<rect x="926" y="3" width="3" height="1" fill="#a8a8a8" shape-rendering="crispEdges"/>
<rect x="926" y="5" width="3" height="1" fill="#a8a8a8" shape-rendering="crispEdges"/>
<rect x="926" y="7" width="3" height="1" fill="#a8a8a8" shape-rendering="crispEdges"/>
<rect x="926" y="9" width="3" height="1" fill="#a8a8a8" shape-rendering="crispEdges"/>
<rect x="926" y="11" width="3" height="1" fill="#a8a8a8" shape-rendering="crispEdges"/>
<rect x="926" y="13" width="3" height="1" fill="#a8a8a8" shape-rendering="crispEdges"/>
<text x="937.50" y="8.00" font-size="10" fill="#404040" textLength="13.00" lengthAdjust="spacingAndGlyphs" text-anchor="start" >M1</text>
<text x="965.00" y="8.00" font-size="10" fill="#404040" textLength="14.00" lengthAdjust="spacingAndGlyphs" text-anchor="start" >M5</text>
<text x="991.00" y="8.00" font-size="10" fill="#404040" textLength="18.00" lengthAdjust="spacingAndGlyphs" text-anchor="start" >M15</text>
<text x="1019.00" y="8.00" font-size="10" fill="#404040" textLength="18.00" lengthAdjust="spacingAndGlyphs" text-anchor="start" >M30</text>
<text x="1050.50" y="8.00" font-size="10" fill="#404040" textLength="12.00" lengthAdjust="spacingAndGlyphs" text-anchor="start" >H1</text>
<text x="1077.00" y="8.00" font-size="10" fill="#404040" textLength="13.00" lengthAdjust="spacingAndGlyphs" text-anchor="start" >H4</text>
<text x="1106.00" y="8.00" font-size="10" fill="#404040" textLength="13.00" lengthAdjust="spacingAndGlyphs" text-anchor="start" >D1</text>
<text x="1134.00" y="8.00" font-size="10" fill="#404040" textLength="14.00" lengthAdjust="spacingAndGlyphs" text-anchor="start" >W1</text>
<text x="1160.00" y="8.00" font-size="10" fill="#404040" textLength="16.00" lengthAdjust="spacingAndGlyphs" text-anchor="start" >MN</text>
<rect x="1183" y="0" width="1" height="14" fill="#a0a0a0" shape-rendering="crispEdges"/><rect x="1184" y="0" width="1" height="14" fill="#ffffff" shape-rendering="crispEdges"/>
<line x1="1650.5" y1="4.5" x2="1646" y2="9" stroke="#2a62d0" stroke-width="2.2" stroke-linecap="round"/>
<circle cx="1653.5" cy="1" r="3.8" fill="#f4f8ff" stroke="#2a62d0" stroke-width="1.4"/>
<path d="M1675,1 C1669,1 1668,10 1674,10.5 L1673,13 L1677,10.5 C1683,10.5 1683,1 1677,1 Z" fill="#e4e6ec" stroke="#a8adb8" stroke-width="0.8"/>
<circle cx="1684.5" cy="1.5" r="8.2" fill="#dc3418"/>
<path d="M1683,-2 H1684.5 V5 M1682,5 H1687" stroke="#fff" stroke-width="1" fill="none" shape-rendering="crispEdges"/>
</g>
</svg>
</body></html>
